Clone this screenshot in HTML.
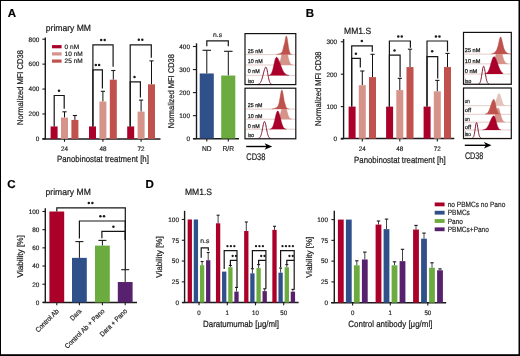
<!DOCTYPE html>
<html><head><meta charset="utf-8"><style>
html,body{margin:0;padding:0;background:#fff;}
svg{display:block;will-change:transform;}
text{font-family:"Liberation Sans", sans-serif;text-rendering:geometricPrecision;}
</style></head><body>
<svg width="520" height="356" viewBox="0 0 520 356">
<rect x="0.00" y="0.00" width="520.00" height="356.00" fill="#000"/>
<rect x="1.00" y="1.00" width="517.50" height="353.20" fill="#fff"/>
<text x="7.70" y="16.80" font-size="11.5" text-anchor="start" font-weight="bold" fill="#000" stroke="#000" stroke-width="0.18">A</text>
<text x="305.80" y="16.80" font-size="11.5" text-anchor="start" font-weight="bold" fill="#000" stroke="#000" stroke-width="0.18">B</text>
<text x="7.20" y="188.00" font-size="11.5" text-anchor="start" font-weight="bold" fill="#000" stroke="#000" stroke-width="0.18">C</text>
<text x="145.60" y="188.20" font-size="11.5" text-anchor="start" font-weight="bold" fill="#000" stroke="#000" stroke-width="0.18">D</text>
<text x="45.80" y="31.30" font-size="9" text-anchor="start" font-weight="normal" fill="#1c1c1c" textLength="45.20" lengthAdjust="spacingAndGlyphs" stroke="#1c1c1c" stroke-width="0.22">primary MM</text>
<line x1="45.30" y1="37.50" x2="45.30" y2="139.20" stroke="#1a1a1a" stroke-width="1.4"/>
<line x1="42.40" y1="138.90" x2="45.30" y2="138.90" stroke="#1a1a1a" stroke-width="1.1"/>
<text x="39.30" y="141.20" font-size="6.4" text-anchor="end" font-weight="normal" fill="#1c1c1c" textLength="3.56" lengthAdjust="spacingAndGlyphs" stroke="#1c1c1c" stroke-width="0.18">0</text>
<line x1="42.40" y1="113.98" x2="45.30" y2="113.98" stroke="#1a1a1a" stroke-width="1.1"/>
<text x="39.30" y="116.28" font-size="6.4" text-anchor="end" font-weight="normal" fill="#1c1c1c" textLength="10.68" lengthAdjust="spacingAndGlyphs" stroke="#1c1c1c" stroke-width="0.18">200</text>
<line x1="42.40" y1="89.06" x2="45.30" y2="89.06" stroke="#1a1a1a" stroke-width="1.1"/>
<text x="39.30" y="91.36" font-size="6.4" text-anchor="end" font-weight="normal" fill="#1c1c1c" textLength="10.68" lengthAdjust="spacingAndGlyphs" stroke="#1c1c1c" stroke-width="0.18">400</text>
<line x1="42.40" y1="64.14" x2="45.30" y2="64.14" stroke="#1a1a1a" stroke-width="1.1"/>
<text x="39.30" y="66.44" font-size="6.4" text-anchor="end" font-weight="normal" fill="#1c1c1c" textLength="10.68" lengthAdjust="spacingAndGlyphs" stroke="#1c1c1c" stroke-width="0.18">600</text>
<line x1="42.40" y1="39.22" x2="45.30" y2="39.22" stroke="#1a1a1a" stroke-width="1.1"/>
<text x="39.30" y="41.52" font-size="6.4" text-anchor="end" font-weight="normal" fill="#1c1c1c" textLength="10.68" lengthAdjust="spacingAndGlyphs" stroke="#1c1c1c" stroke-width="0.18">800</text>
<line x1="42.40" y1="138.90" x2="160.50" y2="138.90" stroke="#1a1a1a" stroke-width="1.5"/>
<line x1="64.50" y1="138.90" x2="64.50" y2="141.80" stroke="#1a1a1a" stroke-width="1.1"/>
<text x="64.50" y="151.20" font-size="6.4" text-anchor="middle" font-weight="normal" fill="#1c1c1c" textLength="7.00" lengthAdjust="spacingAndGlyphs" stroke="#1c1c1c" stroke-width="0.18">24</text>
<line x1="102.90" y1="138.90" x2="102.90" y2="141.80" stroke="#1a1a1a" stroke-width="1.1"/>
<text x="102.90" y="151.20" font-size="6.4" text-anchor="middle" font-weight="normal" fill="#1c1c1c" textLength="7.00" lengthAdjust="spacingAndGlyphs" stroke="#1c1c1c" stroke-width="0.18">48</text>
<line x1="141.10" y1="138.90" x2="141.10" y2="141.80" stroke="#1a1a1a" stroke-width="1.1"/>
<text x="141.10" y="151.20" font-size="6.4" text-anchor="middle" font-weight="normal" fill="#1c1c1c" textLength="7.00" lengthAdjust="spacingAndGlyphs" stroke="#1c1c1c" stroke-width="0.18">72</text>
<text x="57.00" y="162.40" font-size="9.0" text-anchor="start" font-weight="normal" fill="#1c1c1c" textLength="91.90" lengthAdjust="spacingAndGlyphs" stroke="#1c1c1c" stroke-width="0.22">Panobinostat treatment [h]</text>
<text x="22.60" y="87.50" font-size="8.4" text-anchor="middle" font-weight="normal" fill="#1c1c1c" textLength="74.80" lengthAdjust="spacingAndGlyphs" transform="rotate(-90 22.60 87.50)" stroke="#1c1c1c" stroke-width="0.22">Normalized MFI CD38</text>
<rect x="50.60" y="126.44" width="7.00" height="12.46" fill="#ab0029"/>
<line x1="64.50" y1="117.59" x2="64.50" y2="111.80" stroke="#111" stroke-width="1.0"/>
<line x1="62.40" y1="111.80" x2="66.60" y2="111.80" stroke="#1a1a1a" stroke-width="1.1"/>
<rect x="61.00" y="117.59" width="7.00" height="21.31" fill="#d6938a"/>
<line x1="74.90" y1="119.90" x2="74.90" y2="115.50" stroke="#111" stroke-width="1.0"/>
<line x1="72.80" y1="115.50" x2="77.00" y2="115.50" stroke="#1a1a1a" stroke-width="1.1"/>
<rect x="71.40" y="119.90" width="7.00" height="19.00" fill="#c1514d"/>
<rect x="89.00" y="126.44" width="7.00" height="12.46" fill="#ab0029"/>
<line x1="102.90" y1="101.52" x2="102.90" y2="91.30" stroke="#111" stroke-width="1.0"/>
<line x1="100.80" y1="91.30" x2="105.00" y2="91.30" stroke="#1a1a1a" stroke-width="1.1"/>
<rect x="99.40" y="101.52" width="7.00" height="37.38" fill="#d6938a"/>
<line x1="113.30" y1="79.72" x2="113.30" y2="70.50" stroke="#111" stroke-width="1.0"/>
<line x1="111.20" y1="70.50" x2="115.40" y2="70.50" stroke="#1a1a1a" stroke-width="1.1"/>
<rect x="109.80" y="79.72" width="7.00" height="59.19" fill="#c1514d"/>
<rect x="127.20" y="126.44" width="7.00" height="12.46" fill="#ab0029"/>
<line x1="141.10" y1="111.61" x2="141.10" y2="100.10" stroke="#111" stroke-width="1.0"/>
<line x1="139.00" y1="100.10" x2="143.20" y2="100.10" stroke="#1a1a1a" stroke-width="1.1"/>
<rect x="137.60" y="111.61" width="7.00" height="27.29" fill="#d6938a"/>
<line x1="151.50" y1="84.33" x2="151.50" y2="60.90" stroke="#111" stroke-width="1.0"/>
<line x1="149.40" y1="60.90" x2="153.60" y2="60.90" stroke="#1a1a1a" stroke-width="1.1"/>
<rect x="148.00" y="84.33" width="7.00" height="54.57" fill="#c1514d"/>
<path d="M54.20,126.44 L54.20,95.50 L64.20,95.50 L64.20,108.80" fill="none" stroke="#161616" stroke-width="1.2"/>
<circle cx="59.00" cy="90.80" r="1.25" fill="#1a1a1a"/>
<path d="M92.90,126.44 L92.90,44.80 L113.10,44.80 L113.10,66.80" fill="none" stroke="#161616" stroke-width="1.2"/>
<circle cx="101.20" cy="39.90" r="1.25" fill="#1a1a1a"/>
<circle cx="104.70" cy="39.90" r="1.25" fill="#1a1a1a"/>
<path d="M92.90,126.44 L92.90,69.80 L102.40,69.80 L102.40,88.50" fill="none" stroke="#161616" stroke-width="1.2"/>
<circle cx="95.80" cy="64.90" r="1.25" fill="#1a1a1a"/>
<circle cx="99.10" cy="64.90" r="1.25" fill="#1a1a1a"/>
<path d="M130.20,126.44 L130.20,44.80 L151.30,44.80 L151.30,57.80" fill="none" stroke="#161616" stroke-width="1.2"/>
<circle cx="138.80" cy="39.80" r="1.25" fill="#1a1a1a"/>
<circle cx="142.30" cy="39.80" r="1.25" fill="#1a1a1a"/>
<path d="M130.20,126.44 L130.20,81.80 L140.40,81.80 L140.40,97.50" fill="none" stroke="#161616" stroke-width="1.2"/>
<circle cx="134.50" cy="76.90" r="1.25" fill="#1a1a1a"/>
<rect x="52.00" y="45.10" width="9.60" height="3.20" fill="#ab0029"/>
<text x="64.60" y="49.05" font-size="6.5" text-anchor="start" font-weight="normal" fill="#1c1c1c" stroke="#1c1c1c" stroke-width="0.18">0 nM</text>
<rect x="52.00" y="52.30" width="9.60" height="3.20" fill="#d6938a"/>
<text x="64.60" y="56.25" font-size="6.5" text-anchor="start" font-weight="normal" fill="#1c1c1c" stroke="#1c1c1c" stroke-width="0.18">10 nM</text>
<rect x="52.00" y="59.50" width="9.60" height="3.20" fill="#c1514d"/>
<text x="64.60" y="63.45" font-size="6.5" text-anchor="start" font-weight="normal" fill="#1c1c1c" stroke="#1c1c1c" stroke-width="0.18">25 nM</text>
<line x1="196.50" y1="43.30" x2="196.50" y2="139.00" stroke="#1a1a1a" stroke-width="1.4"/>
<line x1="192.90" y1="138.70" x2="196.50" y2="138.70" stroke="#1a1a1a" stroke-width="1.1"/>
<text x="190.00" y="141.00" font-size="6.4" text-anchor="end" font-weight="normal" fill="#1c1c1c" textLength="3.56" lengthAdjust="spacingAndGlyphs" stroke="#1c1c1c" stroke-width="0.18">0</text>
<line x1="192.90" y1="115.65" x2="196.50" y2="115.65" stroke="#1a1a1a" stroke-width="1.1"/>
<text x="190.00" y="117.95" font-size="6.4" text-anchor="end" font-weight="normal" fill="#1c1c1c" textLength="10.68" lengthAdjust="spacingAndGlyphs" stroke="#1c1c1c" stroke-width="0.18">100</text>
<line x1="192.90" y1="92.60" x2="196.50" y2="92.60" stroke="#1a1a1a" stroke-width="1.1"/>
<text x="190.00" y="94.90" font-size="6.4" text-anchor="end" font-weight="normal" fill="#1c1c1c" textLength="10.68" lengthAdjust="spacingAndGlyphs" stroke="#1c1c1c" stroke-width="0.18">200</text>
<line x1="192.90" y1="69.55" x2="196.50" y2="69.55" stroke="#1a1a1a" stroke-width="1.1"/>
<text x="190.00" y="71.85" font-size="6.4" text-anchor="end" font-weight="normal" fill="#1c1c1c" textLength="10.68" lengthAdjust="spacingAndGlyphs" stroke="#1c1c1c" stroke-width="0.18">300</text>
<line x1="192.90" y1="46.50" x2="196.50" y2="46.50" stroke="#1a1a1a" stroke-width="1.1"/>
<text x="190.00" y="48.80" font-size="6.4" text-anchor="end" font-weight="normal" fill="#1c1c1c" textLength="10.68" lengthAdjust="spacingAndGlyphs" stroke="#1c1c1c" stroke-width="0.18">400</text>
<line x1="193.20" y1="138.70" x2="239.00" y2="138.70" stroke="#1a1a1a" stroke-width="1.4"/>
<line x1="206.80" y1="138.50" x2="206.80" y2="141.40" stroke="#1a1a1a" stroke-width="1.1"/>
<text x="206.80" y="150.80" font-size="7.0" text-anchor="middle" font-weight="normal" fill="#1c1c1c" textLength="9.60" lengthAdjust="spacingAndGlyphs" stroke="#1c1c1c" stroke-width="0.18">ND</text>
<line x1="228.30" y1="138.50" x2="228.30" y2="141.40" stroke="#1a1a1a" stroke-width="1.1"/>
<text x="228.30" y="150.80" font-size="7.0" text-anchor="middle" font-weight="normal" fill="#1c1c1c" textLength="11.60" lengthAdjust="spacingAndGlyphs" stroke="#1c1c1c" stroke-width="0.18">R/R</text>
<text x="174.00" y="91.15" font-size="8.4" text-anchor="middle" font-weight="normal" fill="#1c1c1c" textLength="74.10" lengthAdjust="spacingAndGlyphs" transform="rotate(-90 174.00 91.15)" stroke="#1c1c1c" stroke-width="0.22">Normalized MFI CD38</text>
<line x1="206.80" y1="73.47" x2="206.80" y2="50.30" stroke="#111" stroke-width="1.0"/>
<line x1="202.55" y1="50.30" x2="211.05" y2="50.30" stroke="#1a1a1a" stroke-width="1.1"/>
<rect x="199.70" y="73.47" width="14.10" height="65.03" fill="#30508a"/>
<line x1="228.30" y1="75.54" x2="228.30" y2="51.30" stroke="#111" stroke-width="1.0"/>
<line x1="224.05" y1="51.30" x2="232.55" y2="51.30" stroke="#1a1a1a" stroke-width="1.1"/>
<rect x="221.20" y="75.54" width="14.10" height="62.96" fill="#6bab3f"/>
<path d="M206.80,46.30 L206.80,40.80 L228.30,40.80 L228.30,46.30" fill="none" stroke="#161616" stroke-width="1.2"/>
<text x="217.50" y="36.60" font-size="6.6" text-anchor="middle" font-weight="normal" fill="#1c1c1c" textLength="9.00" lengthAdjust="spacingAndGlyphs" stroke="#1c1c1c" stroke-width="0.18">n.s</text>
<text x="344.10" y="33.80" font-size="9" text-anchor="start" font-weight="normal" fill="#1c1c1c" textLength="27.10" lengthAdjust="spacingAndGlyphs" stroke="#1c1c1c" stroke-width="0.22">MM1.S</text>
<line x1="343.60" y1="39.00" x2="343.60" y2="139.00" stroke="#1a1a1a" stroke-width="1.4"/>
<line x1="340.80" y1="139.00" x2="343.60" y2="139.00" stroke="#1a1a1a" stroke-width="1.1"/>
<text x="337.10" y="141.30" font-size="6.4" text-anchor="end" font-weight="normal" fill="#1c1c1c" textLength="3.56" lengthAdjust="spacingAndGlyphs" stroke="#1c1c1c" stroke-width="0.18">0</text>
<line x1="340.80" y1="106.60" x2="343.60" y2="106.60" stroke="#1a1a1a" stroke-width="1.1"/>
<text x="337.10" y="108.90" font-size="6.4" text-anchor="end" font-weight="normal" fill="#1c1c1c" textLength="10.68" lengthAdjust="spacingAndGlyphs" stroke="#1c1c1c" stroke-width="0.18">100</text>
<line x1="340.80" y1="74.20" x2="343.60" y2="74.20" stroke="#1a1a1a" stroke-width="1.1"/>
<text x="337.10" y="76.50" font-size="6.4" text-anchor="end" font-weight="normal" fill="#1c1c1c" textLength="10.68" lengthAdjust="spacingAndGlyphs" stroke="#1c1c1c" stroke-width="0.18">200</text>
<line x1="340.80" y1="41.80" x2="343.60" y2="41.80" stroke="#1a1a1a" stroke-width="1.1"/>
<text x="337.10" y="44.10" font-size="6.4" text-anchor="end" font-weight="normal" fill="#1c1c1c" textLength="10.68" lengthAdjust="spacingAndGlyphs" stroke="#1c1c1c" stroke-width="0.18">300</text>
<line x1="340.80" y1="138.60" x2="454.30" y2="138.60" stroke="#1a1a1a" stroke-width="1.5"/>
<line x1="362.30" y1="138.60" x2="362.30" y2="141.50" stroke="#1a1a1a" stroke-width="1.1"/>
<text x="362.30" y="151.10" font-size="6.4" text-anchor="middle" font-weight="normal" fill="#1c1c1c" textLength="7.00" lengthAdjust="spacingAndGlyphs" stroke="#1c1c1c" stroke-width="0.18">24</text>
<line x1="399.80" y1="138.60" x2="399.80" y2="141.50" stroke="#1a1a1a" stroke-width="1.1"/>
<text x="399.80" y="151.10" font-size="6.4" text-anchor="middle" font-weight="normal" fill="#1c1c1c" textLength="7.00" lengthAdjust="spacingAndGlyphs" stroke="#1c1c1c" stroke-width="0.18">48</text>
<line x1="437.30" y1="138.60" x2="437.30" y2="141.50" stroke="#1a1a1a" stroke-width="1.1"/>
<text x="437.30" y="151.10" font-size="6.4" text-anchor="middle" font-weight="normal" fill="#1c1c1c" textLength="7.00" lengthAdjust="spacingAndGlyphs" stroke="#1c1c1c" stroke-width="0.18">72</text>
<text x="354.10" y="162.50" font-size="9.0" text-anchor="start" font-weight="normal" fill="#1c1c1c" textLength="91.60" lengthAdjust="spacingAndGlyphs" stroke="#1c1c1c" stroke-width="0.22">Panobinostat treatment [h]</text>
<text x="321.50" y="88.70" font-size="8.4" text-anchor="middle" font-weight="normal" fill="#1c1c1c" textLength="74.40" lengthAdjust="spacingAndGlyphs" transform="rotate(-90 321.50 88.70)" stroke="#1c1c1c" stroke-width="0.22">Normalized MFI CD38</text>
<rect x="348.60" y="106.60" width="7.00" height="32.00" fill="#ab0029"/>
<line x1="362.30" y1="85.22" x2="362.30" y2="71.00" stroke="#111" stroke-width="1.0"/>
<line x1="360.20" y1="71.00" x2="364.40" y2="71.00" stroke="#1a1a1a" stroke-width="1.1"/>
<rect x="358.80" y="85.22" width="7.00" height="53.38" fill="#d6938a"/>
<line x1="372.50" y1="77.12" x2="372.50" y2="54.30" stroke="#111" stroke-width="1.0"/>
<line x1="370.40" y1="54.30" x2="374.60" y2="54.30" stroke="#1a1a1a" stroke-width="1.1"/>
<rect x="369.00" y="77.12" width="7.00" height="61.48" fill="#c1514d"/>
<rect x="386.10" y="106.60" width="7.00" height="32.00" fill="#ab0029"/>
<line x1="399.80" y1="90.08" x2="399.80" y2="78.40" stroke="#111" stroke-width="1.0"/>
<line x1="397.70" y1="78.40" x2="401.90" y2="78.40" stroke="#1a1a1a" stroke-width="1.1"/>
<rect x="396.30" y="90.08" width="7.00" height="48.52" fill="#d6938a"/>
<line x1="410.00" y1="67.07" x2="410.00" y2="49.20" stroke="#111" stroke-width="1.0"/>
<line x1="407.90" y1="49.20" x2="412.10" y2="49.20" stroke="#1a1a1a" stroke-width="1.1"/>
<rect x="406.50" y="67.07" width="7.00" height="71.53" fill="#c1514d"/>
<rect x="423.60" y="106.60" width="7.00" height="32.00" fill="#ab0029"/>
<line x1="437.30" y1="91.37" x2="437.30" y2="80.40" stroke="#111" stroke-width="1.0"/>
<line x1="435.20" y1="80.40" x2="439.40" y2="80.40" stroke="#1a1a1a" stroke-width="1.1"/>
<rect x="433.80" y="91.37" width="7.00" height="47.23" fill="#d6938a"/>
<line x1="447.50" y1="67.07" x2="447.50" y2="53.40" stroke="#111" stroke-width="1.0"/>
<line x1="445.40" y1="53.40" x2="449.60" y2="53.40" stroke="#1a1a1a" stroke-width="1.1"/>
<rect x="444.00" y="67.07" width="7.00" height="71.53" fill="#c1514d"/>
<path d="M351.70,106.60 L351.70,45.90 L372.30,45.90 L372.30,51.70" fill="none" stroke="#161616" stroke-width="1.2"/>
<circle cx="361.80" cy="40.90" r="1.25" fill="#1a1a1a"/>
<path d="M351.70,106.60 L351.70,58.30 L360.30,58.30 L360.30,67.60" fill="none" stroke="#161616" stroke-width="1.2"/>
<circle cx="355.90" cy="53.70" r="1.25" fill="#1a1a1a"/>
<path d="M389.40,106.60 L389.40,41.00 L410.40,41.00 L410.40,47.80" fill="none" stroke="#161616" stroke-width="1.2"/>
<circle cx="398.25" cy="36.60" r="1.25" fill="#1a1a1a"/>
<circle cx="401.75" cy="36.60" r="1.25" fill="#1a1a1a"/>
<path d="M389.40,106.60 L389.40,55.20 L400.10,55.20 L400.10,77.20" fill="none" stroke="#161616" stroke-width="1.2"/>
<circle cx="394.50" cy="50.50" r="1.25" fill="#1a1a1a"/>
<path d="M427.00,106.60 L427.00,41.00 L447.50,41.00 L447.50,51.60" fill="none" stroke="#161616" stroke-width="1.2"/>
<circle cx="435.95" cy="36.60" r="1.25" fill="#1a1a1a"/>
<circle cx="439.45" cy="36.60" r="1.25" fill="#1a1a1a"/>
<path d="M427.00,106.60 L427.00,56.60 L437.70,56.60 L437.70,78.60" fill="none" stroke="#161616" stroke-width="1.2"/>
<circle cx="432.20" cy="51.30" r="1.25" fill="#1a1a1a"/>
<text x="247.80" y="52.80" font-size="5.6" text-anchor="start" font-weight="normal" fill="#1e1e1e" textLength="14.90" lengthAdjust="spacingAndGlyphs" stroke="#1e1e1e" stroke-width="0.25">25 nM</text>
<text x="247.80" y="63.20" font-size="5.6" text-anchor="start" font-weight="normal" fill="#1e1e1e" textLength="14.90" lengthAdjust="spacingAndGlyphs" stroke="#1e1e1e" stroke-width="0.25">10 nM</text>
<text x="247.80" y="73.30" font-size="5.6" text-anchor="start" font-weight="normal" fill="#1e1e1e" textLength="12.00" lengthAdjust="spacingAndGlyphs" stroke="#1e1e1e" stroke-width="0.25">0 nM</text>
<text x="247.80" y="83.20" font-size="5.6" text-anchor="start" font-weight="normal" fill="#1e1e1e" textLength="6.30" lengthAdjust="spacingAndGlyphs" stroke="#1e1e1e" stroke-width="0.25">iso</text>
<line x1="246.00" y1="54.60" x2="295.80" y2="54.60" stroke="#dcc0bd" stroke-width="0.8"/>
<line x1="246.00" y1="65.00" x2="295.80" y2="65.00" stroke="#dcc0bd" stroke-width="0.8"/>
<line x1="246.00" y1="75.40" x2="295.80" y2="75.40" stroke="#dcc0bd" stroke-width="0.8"/>
<line x1="246.00" y1="84.50" x2="295.80" y2="84.50" stroke="#dcc0bd" stroke-width="0.8"/>
<path d="M277.00,64.86 L277.25,64.81 L277.50,64.74 L277.75,64.65 L278.00,64.53 L278.25,64.37 L278.50,64.18 L278.75,63.93 L279.00,63.63 L279.25,63.27 L279.50,62.82 L279.75,62.30 L280.00,61.69 L280.25,60.98 L280.50,60.17 L280.75,59.26 L281.00,58.25 L281.25,57.15 L281.50,55.97 L281.75,54.72 L282.00,53.43 L282.25,52.12 L282.50,50.82 L282.75,49.55 L283.00,48.34 L283.25,47.24 L283.50,46.27 L283.75,45.46 L284.00,44.84 L284.25,44.42 L284.50,44.22 L284.75,44.24 L285.00,44.46 L285.25,44.89 L285.50,45.51 L285.75,46.29 L286.00,47.22 L286.25,48.27 L286.50,49.42 L286.75,50.63 L287.00,51.88 L287.25,53.14 L287.50,54.39 L287.75,55.60 L288.00,56.75 L288.25,57.84 L288.50,58.84 L288.75,59.76 L289.00,60.58 L289.25,61.31 L289.50,61.95 L289.75,62.51 L290.00,62.98 L290.25,63.38 L290.50,63.72 L290.75,63.99 L291.00,64.21 L291.25,64.40 L291.50,64.54 L291.75,64.65 L292.00,64.74 L292.25,64.81 L292.50,64.86 L292.50,65.00 L277.00,65.00 Z" fill="#d6938a"/>
<path d="M277.00,64.86 L277.25,64.81 L277.50,64.74 L277.75,64.65 L278.00,64.53 L278.25,64.37 L278.50,64.18 L278.75,63.93 L279.00,63.63 L279.25,63.27 L279.50,62.82 L279.75,62.30 L280.00,61.69 L280.25,60.98 L280.50,60.17 L280.75,59.26 L281.00,58.25 L281.25,57.15 L281.50,55.97 L281.75,54.72 L282.00,53.43 L282.25,52.12 L282.50,50.82 L282.75,49.55 L283.00,48.34 L283.25,47.24 L283.50,46.27 L283.75,45.46 L284.00,44.84 L284.25,44.42 L284.50,44.22 L284.75,44.24 L285.00,44.46 L285.25,44.89 L285.50,45.51 L285.75,46.29 L286.00,47.22 L286.25,48.27 L286.50,49.42 L286.75,50.63 L287.00,51.88 L287.25,53.14 L287.50,54.39 L287.75,55.60 L288.00,56.75 L288.25,57.84 L288.50,58.84 L288.75,59.76 L289.00,60.58 L289.25,61.31 L289.50,61.95 L289.75,62.51 L290.00,62.98 L290.25,63.38 L290.50,63.72 L290.75,63.99 L291.00,64.21 L291.25,64.40 L291.50,64.54 L291.75,64.65 L292.00,64.74 L292.25,64.81 L292.50,64.86" fill="none" stroke="#c98579" stroke-width="0.5"/>
<path d="M276.50,54.36 L276.75,54.33 L277.00,54.30 L277.25,54.27 L277.50,54.23 L277.75,54.18 L278.00,54.13 L278.25,54.08 L278.50,54.02 L278.75,53.95 L279.00,53.87 L279.25,53.79 L279.50,53.70 L279.75,53.61 L280.00,53.50 L280.25,53.39 L280.50,53.27 L280.75,53.15 L281.00,53.01 L281.25,52.86 L281.50,52.70 L281.75,52.51 L282.00,52.30 L282.25,52.03 L282.50,51.71 L282.75,51.31 L283.00,50.80 L283.25,50.16 L283.50,49.37 L283.75,48.40 L284.00,47.26 L284.25,45.94 L284.50,44.47 L284.75,42.90 L285.00,41.30 L285.25,39.75 L285.50,38.35 L285.75,37.21 L286.00,36.41 L286.25,36.03 L286.50,36.10 L286.75,36.62 L287.00,37.56 L287.25,38.85 L287.50,40.39 L287.75,42.10 L288.00,43.86 L288.25,45.60 L288.50,47.22 L288.75,48.68 L289.00,49.94 L289.25,51.01 L289.50,51.87 L289.75,52.55 L290.00,53.08 L290.25,53.47 L290.50,53.76 L290.75,53.98 L291.00,54.13 L291.25,54.24 L291.50,54.31 L291.75,54.37 L291.75,54.50 L276.50,54.50 Z" fill="#c1514d"/>
<path d="M276.50,54.36 L276.75,54.33 L277.00,54.30 L277.25,54.27 L277.50,54.23 L277.75,54.18 L278.00,54.13 L278.25,54.08 L278.50,54.02 L278.75,53.95 L279.00,53.87 L279.25,53.79 L279.50,53.70 L279.75,53.61 L280.00,53.50 L280.25,53.39 L280.50,53.27 L280.75,53.15 L281.00,53.01 L281.25,52.86 L281.50,52.70 L281.75,52.51 L282.00,52.30 L282.25,52.03 L282.50,51.71 L282.75,51.31 L283.00,50.80 L283.25,50.16 L283.50,49.37 L283.75,48.40 L284.00,47.26 L284.25,45.94 L284.50,44.47 L284.75,42.90 L285.00,41.30 L285.25,39.75 L285.50,38.35 L285.75,37.21 L286.00,36.41 L286.25,36.03 L286.50,36.10 L286.75,36.62 L287.00,37.56 L287.25,38.85 L287.50,40.39 L287.75,42.10 L288.00,43.86 L288.25,45.60 L288.50,47.22 L288.75,48.68 L289.00,49.94 L289.25,51.01 L289.50,51.87 L289.75,52.55 L290.00,53.08 L290.25,53.47 L290.50,53.76 L290.75,53.98 L291.00,54.13 L291.25,54.24 L291.50,54.31 L291.75,54.37" fill="none" stroke="#b04840" stroke-width="0.5"/>
<path d="M268.75,75.29 L269.00,75.24 L269.25,75.19 L269.50,75.11 L269.75,75.01 L270.00,74.88 L270.25,74.72 L270.50,74.52 L270.75,74.27 L271.00,73.96 L271.25,73.59 L271.50,73.15 L271.75,72.63 L272.00,72.03 L272.25,71.34 L272.50,70.57 L272.75,69.71 L273.00,68.76 L273.25,67.75 L273.50,66.68 L273.75,65.56 L274.00,64.42 L274.25,63.28 L274.50,62.17 L274.75,61.11 L275.00,60.13 L275.25,59.26 L275.50,58.53 L275.75,57.95 L276.00,57.55 L276.25,57.34 L276.50,57.31 L276.75,57.37 L277.00,57.50 L277.25,57.70 L277.50,57.97 L277.75,58.30 L278.00,58.69 L278.25,59.14 L278.50,59.63 L278.75,60.17 L279.00,60.75 L279.25,61.36 L279.50,62.00 L279.75,62.65 L280.00,63.33 L280.25,64.01 L280.50,64.70 L280.75,65.38 L281.00,66.06 L281.25,66.72 L281.50,67.37 L281.75,68.00 L282.00,68.61 L282.25,69.19 L282.50,69.74 L282.75,70.27 L283.00,70.76 L283.25,71.22 L283.50,71.65 L283.75,72.05 L284.00,72.42 L284.25,72.76 L284.50,73.07 L284.75,73.35 L285.00,73.61 L285.25,73.83 L285.50,74.04 L285.75,74.22 L286.00,74.38 L286.25,74.53 L286.50,74.65 L286.75,74.76 L287.00,74.86 L287.25,74.94 L287.50,75.01 L287.75,75.08 L288.00,75.13 L288.25,75.18 L288.50,75.21 L288.75,75.25 L289.00,75.27 L289.00,75.40 L268.75,75.40 Z" fill="#ab0029"/>
<path d="M268.75,75.29 L269.00,75.24 L269.25,75.19 L269.50,75.11 L269.75,75.01 L270.00,74.88 L270.25,74.72 L270.50,74.52 L270.75,74.27 L271.00,73.96 L271.25,73.59 L271.50,73.15 L271.75,72.63 L272.00,72.03 L272.25,71.34 L272.50,70.57 L272.75,69.71 L273.00,68.76 L273.25,67.75 L273.50,66.68 L273.75,65.56 L274.00,64.42 L274.25,63.28 L274.50,62.17 L274.75,61.11 L275.00,60.13 L275.25,59.26 L275.50,58.53 L275.75,57.95 L276.00,57.55 L276.25,57.34 L276.50,57.31 L276.75,57.37 L277.00,57.50 L277.25,57.70 L277.50,57.97 L277.75,58.30 L278.00,58.69 L278.25,59.14 L278.50,59.63 L278.75,60.17 L279.00,60.75 L279.25,61.36 L279.50,62.00 L279.75,62.65 L280.00,63.33 L280.25,64.01 L280.50,64.70 L280.75,65.38 L281.00,66.06 L281.25,66.72 L281.50,67.37 L281.75,68.00 L282.00,68.61 L282.25,69.19 L282.50,69.74 L282.75,70.27 L283.00,70.76 L283.25,71.22 L283.50,71.65 L283.75,72.05 L284.00,72.42 L284.25,72.76 L284.50,73.07 L284.75,73.35 L285.00,73.61 L285.25,73.83 L285.50,74.04 L285.75,74.22 L286.00,74.38 L286.25,74.53 L286.50,74.65 L286.75,74.76 L287.00,74.86 L287.25,74.94 L287.50,75.01 L287.75,75.08 L288.00,75.13 L288.25,75.18 L288.50,75.21 L288.75,75.25 L289.00,75.27" fill="none" stroke="#900022" stroke-width="0.5"/>
<path d="M257.75,84.37 L258.00,84.33 L258.25,84.27 L258.50,84.20 L258.75,84.10 L259.00,83.99 L259.25,83.84 L259.50,83.66 L259.75,83.44 L260.00,83.17 L260.25,82.86 L260.50,82.49 L260.75,82.05 L261.00,81.55 L261.25,80.98 L261.50,80.34 L261.75,79.63 L262.00,78.85 L262.25,78.00 L262.50,77.10 L262.75,76.15 L263.00,75.16 L263.25,74.15 L263.50,73.14 L263.75,72.14 L264.00,71.18 L264.25,70.27 L264.50,69.45 L264.75,68.72 L265.00,68.11 L265.25,67.64 L265.50,67.30 L265.75,67.13 L266.00,67.12 L266.25,67.39 L266.50,67.95 L266.75,68.76 L267.00,69.78 L267.25,70.98 L267.50,72.29 L267.75,73.67 L268.00,75.05 L268.25,76.40 L268.50,77.68 L268.75,78.85 L269.00,79.90 L269.25,80.82 L269.50,81.61 L269.75,82.27 L270.00,82.80 L270.25,83.23 L270.50,83.57 L270.75,83.83 L271.00,84.03 L271.25,84.17 L271.50,84.27 L271.75,84.35 L272.00,84.40" fill="none" stroke="#7d1530" stroke-width="1.0"/>
<rect x="245.00" y="33.60" width="50.80" height="51.00" fill="none" stroke="#111" stroke-width="1.2"/>
<text x="247.80" y="107.30" font-size="5.6" text-anchor="start" font-weight="normal" fill="#1e1e1e" textLength="14.70" lengthAdjust="spacingAndGlyphs" stroke="#1e1e1e" stroke-width="0.25">25 nM</text>
<text x="247.80" y="117.50" font-size="5.6" text-anchor="start" font-weight="normal" fill="#1e1e1e" textLength="14.70" lengthAdjust="spacingAndGlyphs" stroke="#1e1e1e" stroke-width="0.25">10 nM</text>
<text x="247.80" y="128.00" font-size="5.6" text-anchor="start" font-weight="normal" fill="#1e1e1e" textLength="12.00" lengthAdjust="spacingAndGlyphs" stroke="#1e1e1e" stroke-width="0.25">0 nM</text>
<text x="247.80" y="137.20" font-size="5.6" text-anchor="start" font-weight="normal" fill="#1e1e1e" textLength="6.30" lengthAdjust="spacingAndGlyphs" stroke="#1e1e1e" stroke-width="0.25">iso</text>
<line x1="246.00" y1="109.10" x2="295.80" y2="109.10" stroke="#dcc0bd" stroke-width="0.8"/>
<line x1="246.00" y1="119.20" x2="295.80" y2="119.20" stroke="#dcc0bd" stroke-width="0.8"/>
<line x1="246.00" y1="129.20" x2="295.80" y2="129.20" stroke="#dcc0bd" stroke-width="0.8"/>
<line x1="246.00" y1="138.40" x2="295.80" y2="138.40" stroke="#dcc0bd" stroke-width="0.8"/>
<path d="M276.75,119.08 L277.00,119.03 L277.25,118.97 L277.50,118.89 L277.75,118.78 L278.00,118.63 L278.25,118.45 L278.50,118.23 L278.75,117.94 L279.00,117.60 L279.25,117.18 L279.50,116.69 L279.75,116.12 L280.00,115.45 L280.25,114.70 L280.50,113.86 L280.75,112.94 L281.00,111.94 L281.25,110.88 L281.50,109.78 L281.75,108.66 L282.00,107.55 L282.25,106.47 L282.50,105.46 L282.75,104.53 L283.00,103.73 L283.25,103.08 L283.50,102.60 L283.75,102.30 L284.00,102.20 L284.25,102.29 L284.50,102.56 L284.75,103.01 L285.00,103.61 L285.25,104.36 L285.50,105.22 L285.75,106.17 L286.00,107.19 L286.25,108.25 L286.50,109.32 L286.75,110.38 L287.00,111.42 L287.25,112.40 L287.50,113.33 L287.75,114.18 L288.00,114.96 L288.25,115.66 L288.50,116.27 L288.75,116.80 L289.00,117.26 L289.25,117.65 L289.50,117.97 L289.75,118.24 L290.00,118.45 L290.25,118.63 L290.50,118.77 L290.75,118.87 L291.00,118.96 L291.25,119.02 L291.50,119.07 L291.50,119.20 L276.75,119.20 Z" fill="#d6938a"/>
<path d="M276.75,119.08 L277.00,119.03 L277.25,118.97 L277.50,118.89 L277.75,118.78 L278.00,118.63 L278.25,118.45 L278.50,118.23 L278.75,117.94 L279.00,117.60 L279.25,117.18 L279.50,116.69 L279.75,116.12 L280.00,115.45 L280.25,114.70 L280.50,113.86 L280.75,112.94 L281.00,111.94 L281.25,110.88 L281.50,109.78 L281.75,108.66 L282.00,107.55 L282.25,106.47 L282.50,105.46 L282.75,104.53 L283.00,103.73 L283.25,103.08 L283.50,102.60 L283.75,102.30 L284.00,102.20 L284.25,102.29 L284.50,102.56 L284.75,103.01 L285.00,103.61 L285.25,104.36 L285.50,105.22 L285.75,106.17 L286.00,107.19 L286.25,108.25 L286.50,109.32 L286.75,110.38 L287.00,111.42 L287.25,112.40 L287.50,113.33 L287.75,114.18 L288.00,114.96 L288.25,115.66 L288.50,116.27 L288.75,116.80 L289.00,117.26 L289.25,117.65 L289.50,117.97 L289.75,118.24 L290.00,118.45 L290.25,118.63 L290.50,118.77 L290.75,118.87 L291.00,118.96 L291.25,119.02 L291.50,119.07" fill="none" stroke="#c98579" stroke-width="0.5"/>
<path d="M271.75,108.97 L272.00,108.94 L272.25,108.91 L272.50,108.88 L272.75,108.85 L273.00,108.81 L273.25,108.76 L273.50,108.71 L273.75,108.65 L274.00,108.59 L274.25,108.52 L274.50,108.44 L274.75,108.36 L275.00,108.26 L275.25,108.17 L275.50,108.06 L275.75,107.94 L276.00,107.82 L276.25,107.68 L276.50,107.53 L276.75,107.36 L277.00,107.17 L277.25,106.95 L277.50,106.68 L277.75,106.35 L278.00,105.95 L278.25,105.45 L278.50,104.84 L278.75,104.10 L279.00,103.20 L279.25,102.15 L279.50,100.93 L279.75,99.58 L280.00,98.11 L280.25,96.58 L280.50,95.05 L280.75,93.60 L281.00,92.30 L281.25,91.24 L281.50,90.48 L281.75,90.08 L282.00,90.08 L282.25,90.48 L282.50,91.25 L282.75,92.34 L283.00,93.69 L283.25,95.21 L283.50,96.82 L283.75,98.44 L284.00,100.01 L284.25,101.46 L284.50,102.78 L284.75,103.93 L285.00,104.90 L285.25,105.72 L285.50,106.39 L285.75,106.92 L286.00,107.35 L286.25,107.69 L286.50,107.95 L286.75,108.16 L287.00,108.33 L287.25,108.47 L287.50,108.58 L287.75,108.67 L288.00,108.74 L288.25,108.81 L288.50,108.86 L288.75,108.90 L289.00,108.94 L289.25,108.97 L289.25,109.10 L271.75,109.10 Z" fill="#c1514d"/>
<path d="M271.75,108.97 L272.00,108.94 L272.25,108.91 L272.50,108.88 L272.75,108.85 L273.00,108.81 L273.25,108.76 L273.50,108.71 L273.75,108.65 L274.00,108.59 L274.25,108.52 L274.50,108.44 L274.75,108.36 L275.00,108.26 L275.25,108.17 L275.50,108.06 L275.75,107.94 L276.00,107.82 L276.25,107.68 L276.50,107.53 L276.75,107.36 L277.00,107.17 L277.25,106.95 L277.50,106.68 L277.75,106.35 L278.00,105.95 L278.25,105.45 L278.50,104.84 L278.75,104.10 L279.00,103.20 L279.25,102.15 L279.50,100.93 L279.75,99.58 L280.00,98.11 L280.25,96.58 L280.50,95.05 L280.75,93.60 L281.00,92.30 L281.25,91.24 L281.50,90.48 L281.75,90.08 L282.00,90.08 L282.25,90.48 L282.50,91.25 L282.75,92.34 L283.00,93.69 L283.25,95.21 L283.50,96.82 L283.75,98.44 L284.00,100.01 L284.25,101.46 L284.50,102.78 L284.75,103.93 L285.00,104.90 L285.25,105.72 L285.50,106.39 L285.75,106.92 L286.00,107.35 L286.25,107.69 L286.50,107.95 L286.75,108.16 L287.00,108.33 L287.25,108.47 L287.50,108.58 L287.75,108.67 L288.00,108.74 L288.25,108.81 L288.50,108.86 L288.75,108.90 L289.00,108.94 L289.25,108.97" fill="none" stroke="#b04840" stroke-width="0.5"/>
<path d="M269.75,129.08 L270.00,129.04 L270.25,128.99 L270.50,128.91 L270.75,128.82 L271.00,128.70 L271.25,128.55 L271.50,128.36 L271.75,128.13 L272.00,127.85 L272.25,127.51 L272.50,127.11 L272.75,126.64 L273.00,126.09 L273.25,125.47 L273.50,124.76 L273.75,123.98 L274.00,123.11 L274.25,122.18 L274.50,121.18 L274.75,120.13 L275.00,119.04 L275.25,117.94 L275.50,116.84 L275.75,115.77 L276.00,114.76 L276.25,113.82 L276.50,112.98 L276.75,112.27 L277.00,111.70 L277.25,111.29 L277.50,111.06 L277.75,111.00 L278.00,111.11 L278.25,111.37 L278.50,111.78 L278.75,112.33 L279.00,112.99 L279.25,113.76 L279.50,114.63 L279.75,115.56 L280.00,116.54 L280.25,117.55 L280.50,118.57 L280.75,119.58 L281.00,120.58 L281.25,121.53 L281.50,122.44 L281.75,123.29 L282.00,124.08 L282.25,124.80 L282.50,125.45 L282.75,126.03 L283.00,126.55 L283.25,127.00 L283.50,127.39 L283.75,127.72 L284.00,128.00 L284.25,128.24 L284.50,128.44 L284.75,128.60 L285.00,128.73 L285.25,128.84 L285.50,128.92 L285.75,128.99 L286.00,129.04 L286.25,129.08 L286.25,129.20 L269.75,129.20 Z" fill="#ab0029"/>
<path d="M269.75,129.08 L270.00,129.04 L270.25,128.99 L270.50,128.91 L270.75,128.82 L271.00,128.70 L271.25,128.55 L271.50,128.36 L271.75,128.13 L272.00,127.85 L272.25,127.51 L272.50,127.11 L272.75,126.64 L273.00,126.09 L273.25,125.47 L273.50,124.76 L273.75,123.98 L274.00,123.11 L274.25,122.18 L274.50,121.18 L274.75,120.13 L275.00,119.04 L275.25,117.94 L275.50,116.84 L275.75,115.77 L276.00,114.76 L276.25,113.82 L276.50,112.98 L276.75,112.27 L277.00,111.70 L277.25,111.29 L277.50,111.06 L277.75,111.00 L278.00,111.11 L278.25,111.37 L278.50,111.78 L278.75,112.33 L279.00,112.99 L279.25,113.76 L279.50,114.63 L279.75,115.56 L280.00,116.54 L280.25,117.55 L280.50,118.57 L280.75,119.58 L281.00,120.58 L281.25,121.53 L281.50,122.44 L281.75,123.29 L282.00,124.08 L282.25,124.80 L282.50,125.45 L282.75,126.03 L283.00,126.55 L283.25,127.00 L283.50,127.39 L283.75,127.72 L284.00,128.00 L284.25,128.24 L284.50,128.44 L284.75,128.60 L285.00,128.73 L285.25,128.84 L285.50,128.92 L285.75,128.99 L286.00,129.04 L286.25,129.08" fill="none" stroke="#900022" stroke-width="0.5"/>
<path d="M258.50,138.28 L258.75,138.23 L259.00,138.14 L259.25,138.03 L259.50,137.87 L259.75,137.66 L260.00,137.38 L260.25,137.02 L260.50,136.56 L260.75,135.99 L261.00,135.30 L261.25,134.49 L261.50,133.54 L261.75,132.47 L262.00,131.29 L262.25,130.02 L262.50,128.69 L262.75,127.34 L263.00,126.02 L263.25,124.79 L263.50,123.69 L263.75,122.77 L264.00,122.08 L264.25,121.65 L264.50,121.50 L264.75,121.65 L265.00,122.08 L265.25,122.77 L265.50,123.69 L265.75,124.79 L266.00,126.02 L266.25,127.34 L266.50,128.69 L266.75,130.02 L267.00,131.29 L267.25,132.47 L267.50,133.54 L267.75,134.49 L268.00,135.30 L268.25,135.99 L268.50,136.56 L268.75,137.02 L269.00,137.38 L269.25,137.66 L269.50,137.87 L269.75,138.03 L270.00,138.14 L270.25,138.23 L270.50,138.28" fill="none" stroke="#7d1530" stroke-width="1.0"/>
<rect x="245.00" y="88.20" width="50.80" height="50.60" fill="none" stroke="#111" stroke-width="1.2"/>
<line x1="246.20" y1="146.50" x2="268.00" y2="146.50" stroke="#000" stroke-width="1.4"/>
<path d="M272.20,146.50 L264.60,143.20 L266.60,146.50 L264.60,149.80 L272.20,146.50" fill="#000" stroke="none" stroke-width="1"/>
<text x="246.30" y="160.40" font-size="9.6" text-anchor="start" font-weight="normal" fill="#1c1c1c" textLength="19.00" lengthAdjust="spacingAndGlyphs" stroke="#1c1c1c" stroke-width="0.22">CD38</text>
<text x="464.80" y="52.40" font-size="5.6" text-anchor="start" font-weight="normal" fill="#1e1e1e" textLength="15.50" lengthAdjust="spacingAndGlyphs" stroke="#1e1e1e" stroke-width="0.25">25 nM</text>
<text x="464.80" y="62.70" font-size="5.6" text-anchor="start" font-weight="normal" fill="#1e1e1e" textLength="15.50" lengthAdjust="spacingAndGlyphs" stroke="#1e1e1e" stroke-width="0.25">10 nM</text>
<text x="464.80" y="73.00" font-size="5.6" text-anchor="start" font-weight="normal" fill="#1e1e1e" textLength="12.50" lengthAdjust="spacingAndGlyphs" stroke="#1e1e1e" stroke-width="0.25">0 nM</text>
<text x="464.80" y="83.40" font-size="5.6" text-anchor="start" font-weight="normal" fill="#1e1e1e" textLength="6.50" lengthAdjust="spacingAndGlyphs" stroke="#1e1e1e" stroke-width="0.25">iso</text>
<line x1="464.50" y1="54.10" x2="511.30" y2="54.10" stroke="#dcc0bd" stroke-width="0.8"/>
<line x1="464.50" y1="63.90" x2="511.30" y2="63.90" stroke="#dcc0bd" stroke-width="0.8"/>
<line x1="464.50" y1="74.00" x2="511.30" y2="74.00" stroke="#dcc0bd" stroke-width="0.8"/>
<line x1="464.50" y1="84.00" x2="511.30" y2="84.00" stroke="#dcc0bd" stroke-width="0.8"/>
<path d="M490.75,63.78 L491.00,63.74 L491.25,63.69 L491.50,63.62 L491.75,63.54 L492.00,63.43 L492.25,63.29 L492.50,63.12 L492.75,62.91 L493.00,62.66 L493.25,62.36 L493.50,62.00 L493.75,61.58 L494.00,61.10 L494.25,60.55 L494.50,59.92 L494.75,59.22 L495.00,58.45 L495.25,57.61 L495.50,56.71 L495.75,55.75 L496.00,54.75 L496.25,53.73 L496.50,52.69 L496.75,51.66 L497.00,50.66 L497.25,49.71 L497.50,48.83 L497.75,48.04 L498.00,47.37 L498.25,46.83 L498.50,46.43 L498.75,46.18 L499.00,46.10 L499.25,46.17 L499.50,46.38 L499.75,46.73 L500.00,47.20 L500.25,47.79 L500.50,48.48 L500.75,49.26 L501.00,50.11 L501.25,51.01 L501.50,51.95 L501.75,52.91 L502.00,53.87 L502.25,54.82 L502.50,55.75 L502.75,56.64 L503.00,57.48 L503.25,58.27 L503.50,59.01 L503.75,59.68 L504.00,60.29 L504.25,60.83 L504.50,61.31 L504.75,61.74 L505.00,62.11 L505.25,62.43 L505.50,62.70 L505.75,62.93 L506.00,63.12 L506.25,63.28 L506.50,63.41 L506.75,63.51 L507.00,63.60 L507.25,63.67 L507.50,63.72 L507.75,63.77 L507.75,63.90 L490.75,63.90 Z" fill="#d6938a"/>
<path d="M490.75,63.78 L491.00,63.74 L491.25,63.69 L491.50,63.62 L491.75,63.54 L492.00,63.43 L492.25,63.29 L492.50,63.12 L492.75,62.91 L493.00,62.66 L493.25,62.36 L493.50,62.00 L493.75,61.58 L494.00,61.10 L494.25,60.55 L494.50,59.92 L494.75,59.22 L495.00,58.45 L495.25,57.61 L495.50,56.71 L495.75,55.75 L496.00,54.75 L496.25,53.73 L496.50,52.69 L496.75,51.66 L497.00,50.66 L497.25,49.71 L497.50,48.83 L497.75,48.04 L498.00,47.37 L498.25,46.83 L498.50,46.43 L498.75,46.18 L499.00,46.10 L499.25,46.17 L499.50,46.38 L499.75,46.73 L500.00,47.20 L500.25,47.79 L500.50,48.48 L500.75,49.26 L501.00,50.11 L501.25,51.01 L501.50,51.95 L501.75,52.91 L502.00,53.87 L502.25,54.82 L502.50,55.75 L502.75,56.64 L503.00,57.48 L503.25,58.27 L503.50,59.01 L503.75,59.68 L504.00,60.29 L504.25,60.83 L504.50,61.31 L504.75,61.74 L505.00,62.11 L505.25,62.43 L505.50,62.70 L505.75,62.93 L506.00,63.12 L506.25,63.28 L506.50,63.41 L506.75,63.51 L507.00,63.60 L507.25,63.67 L507.50,63.72 L507.75,63.77" fill="none" stroke="#c98579" stroke-width="0.5"/>
<path d="M491.25,53.96 L491.50,53.92 L491.75,53.88 L492.00,53.83 L492.25,53.77 L492.50,53.70 L492.75,53.62 L493.00,53.53 L493.25,53.42 L493.50,53.30 L493.75,53.16 L494.00,53.00 L494.25,52.82 L494.50,52.62 L494.75,52.41 L495.00,52.17 L495.25,51.91 L495.50,51.62 L495.75,51.31 L496.00,50.97 L496.25,50.59 L496.50,50.17 L496.75,49.70 L497.00,49.17 L497.25,48.57 L497.50,47.87 L497.75,47.08 L498.00,46.19 L498.25,45.19 L498.50,44.09 L498.75,42.93 L499.00,41.73 L499.25,40.54 L499.50,39.43 L499.75,38.45 L500.00,37.68 L500.25,37.17 L500.50,36.95 L500.75,37.02 L501.00,37.35 L501.25,37.90 L501.50,38.66 L501.75,39.58 L502.00,40.62 L502.25,41.73 L502.50,42.87 L502.75,44.00 L503.00,45.09 L503.25,46.10 L503.50,47.04 L503.75,47.88 L504.00,48.62 L504.25,49.28 L504.50,49.85 L504.75,50.35 L505.00,50.79 L505.25,51.17 L505.50,51.51 L505.75,51.80 L506.00,52.07 L506.25,52.31 L506.50,52.52 L506.75,52.71 L507.00,52.88 L507.25,53.04 L507.50,53.18 L507.75,53.30 L508.00,53.41 L508.25,53.51 L508.50,53.60 L508.75,53.67 L509.00,53.74 L509.25,53.79 L509.50,53.84 L509.75,53.89 L510.00,53.92 L510.25,53.95 L510.25,54.10 L491.25,54.10 Z" fill="#c1514d"/>
<path d="M491.25,53.96 L491.50,53.92 L491.75,53.88 L492.00,53.83 L492.25,53.77 L492.50,53.70 L492.75,53.62 L493.00,53.53 L493.25,53.42 L493.50,53.30 L493.75,53.16 L494.00,53.00 L494.25,52.82 L494.50,52.62 L494.75,52.41 L495.00,52.17 L495.25,51.91 L495.50,51.62 L495.75,51.31 L496.00,50.97 L496.25,50.59 L496.50,50.17 L496.75,49.70 L497.00,49.17 L497.25,48.57 L497.50,47.87 L497.75,47.08 L498.00,46.19 L498.25,45.19 L498.50,44.09 L498.75,42.93 L499.00,41.73 L499.25,40.54 L499.50,39.43 L499.75,38.45 L500.00,37.68 L500.25,37.17 L500.50,36.95 L500.75,37.02 L501.00,37.35 L501.25,37.90 L501.50,38.66 L501.75,39.58 L502.00,40.62 L502.25,41.73 L502.50,42.87 L502.75,44.00 L503.00,45.09 L503.25,46.10 L503.50,47.04 L503.75,47.88 L504.00,48.62 L504.25,49.28 L504.50,49.85 L504.75,50.35 L505.00,50.79 L505.25,51.17 L505.50,51.51 L505.75,51.80 L506.00,52.07 L506.25,52.31 L506.50,52.52 L506.75,52.71 L507.00,52.88 L507.25,53.04 L507.50,53.18 L507.75,53.30 L508.00,53.41 L508.25,53.51 L508.50,53.60 L508.75,53.67 L509.00,53.74 L509.25,53.79 L509.50,53.84 L509.75,53.89 L510.00,53.92 L510.25,53.95" fill="none" stroke="#b04840" stroke-width="0.5"/>
<path d="M484.75,73.85 L485.00,73.81 L485.25,73.75 L485.50,73.69 L485.75,73.61 L486.00,73.51 L486.25,73.38 L486.50,73.24 L486.75,73.07 L487.00,72.86 L487.25,72.62 L487.50,72.35 L487.75,72.03 L488.00,71.66 L488.25,71.24 L488.50,70.78 L488.75,70.26 L489.00,69.69 L489.25,69.06 L489.50,68.38 L489.75,67.66 L490.00,66.89 L490.25,66.08 L490.50,65.24 L490.75,64.38 L491.00,63.51 L491.25,62.63 L491.50,61.77 L491.75,60.94 L492.00,60.15 L492.25,59.41 L492.50,58.73 L492.75,58.14 L493.00,57.63 L493.25,57.23 L493.50,56.94 L493.75,56.76 L494.00,56.70 L494.25,56.74 L494.50,56.87 L494.75,57.07 L495.00,57.35 L495.25,57.71 L495.50,58.14 L495.75,58.63 L496.00,59.17 L496.25,59.77 L496.50,60.41 L496.75,61.08 L497.00,61.77 L497.25,62.49 L497.50,63.22 L497.75,63.94 L498.00,64.67 L498.25,65.38 L498.50,66.08 L498.75,66.76 L499.00,67.41 L499.25,68.03 L499.50,68.61 L499.75,69.17 L500.00,69.69 L500.25,70.17 L500.50,70.61 L500.75,71.02 L501.00,71.39 L501.25,71.72 L501.50,72.03 L501.75,72.30 L502.00,72.54 L502.25,72.75 L502.50,72.93 L502.75,74.00 L502.75,74.00 L484.75,74.00 Z" fill="#ab0029"/>
<path d="M484.75,73.85 L485.00,73.81 L485.25,73.75 L485.50,73.69 L485.75,73.61 L486.00,73.51 L486.25,73.38 L486.50,73.24 L486.75,73.07 L487.00,72.86 L487.25,72.62 L487.50,72.35 L487.75,72.03 L488.00,71.66 L488.25,71.24 L488.50,70.78 L488.75,70.26 L489.00,69.69 L489.25,69.06 L489.50,68.38 L489.75,67.66 L490.00,66.89 L490.25,66.08 L490.50,65.24 L490.75,64.38 L491.00,63.51 L491.25,62.63 L491.50,61.77 L491.75,60.94 L492.00,60.15 L492.25,59.41 L492.50,58.73 L492.75,58.14 L493.00,57.63 L493.25,57.23 L493.50,56.94 L493.75,56.76 L494.00,56.70 L494.25,56.74 L494.50,56.87 L494.75,57.07 L495.00,57.35 L495.25,57.71 L495.50,58.14 L495.75,58.63 L496.00,59.17 L496.25,59.77 L496.50,60.41 L496.75,61.08 L497.00,61.77 L497.25,62.49 L497.50,63.22 L497.75,63.94 L498.00,64.67 L498.25,65.38 L498.50,66.08 L498.75,66.76 L499.00,67.41 L499.25,68.03 L499.50,68.61 L499.75,69.17 L500.00,69.69 L500.25,70.17 L500.50,70.61 L500.75,71.02 L501.00,71.39 L501.25,71.72 L501.50,72.03 L501.75,72.30 L502.00,72.54 L502.25,72.75 L502.50,72.93 L502.75,74.00" fill="none" stroke="#900022" stroke-width="0.5"/>
<path d="M478.50,83.89 L478.75,83.82 L479.00,83.71 L479.25,83.56 L479.50,83.33 L479.75,83.02 L480.00,82.58 L480.25,82.01 L480.50,81.28 L480.75,80.36 L481.00,79.25 L481.25,77.95 L481.50,76.48 L481.75,74.88 L482.00,73.20 L482.25,71.53 L482.50,69.95 L482.75,68.54 L483.00,67.41 L483.25,66.62 L483.50,66.23 L483.75,66.27 L484.00,66.69 L484.25,67.45 L484.50,68.53 L484.75,69.84 L485.00,71.32 L485.25,72.89 L485.50,74.47 L485.75,76.00 L486.00,77.43 L486.25,78.72 L486.50,79.85 L486.75,80.80 L487.00,81.59 L487.25,82.22 L487.50,82.72 L487.75,83.10 L488.00,83.38 L488.25,83.58 L488.50,83.72 L488.75,83.82 L489.00,83.89" fill="none" stroke="#7d1530" stroke-width="1.0"/>
<rect x="463.50" y="32.40" width="47.80" height="51.90" fill="none" stroke="#111" stroke-width="1.2"/>
<text x="464.80" y="103.40" font-size="5.8" text-anchor="start" font-weight="normal" fill="#1e1e1e" textLength="5.00" lengthAdjust="spacingAndGlyphs" stroke="#1e1e1e" stroke-width="0.25">on</text>
<text x="464.80" y="112.10" font-size="5.8" text-anchor="start" font-weight="normal" fill="#1e1e1e" textLength="6.20" lengthAdjust="spacingAndGlyphs" stroke="#1e1e1e" stroke-width="0.25">off</text>
<text x="464.80" y="120.70" font-size="5.8" text-anchor="start" font-weight="normal" fill="#1e1e1e" textLength="5.00" lengthAdjust="spacingAndGlyphs" stroke="#1e1e1e" stroke-width="0.25">on</text>
<text x="464.80" y="128.60" font-size="5.8" text-anchor="start" font-weight="normal" fill="#1e1e1e" textLength="6.20" lengthAdjust="spacingAndGlyphs" stroke="#1e1e1e" stroke-width="0.25">off</text>
<text x="464.80" y="135.80" font-size="5.8" text-anchor="start" font-weight="normal" fill="#1e1e1e" textLength="6.20" lengthAdjust="spacingAndGlyphs" stroke="#1e1e1e" stroke-width="0.25">iso</text>
<line x1="464.50" y1="105.70" x2="511.30" y2="105.70" stroke="#dcc0bd" stroke-width="0.8"/>
<line x1="464.50" y1="114.30" x2="511.30" y2="114.30" stroke="#dcc0bd" stroke-width="0.8"/>
<line x1="464.50" y1="122.20" x2="511.30" y2="122.20" stroke="#dcc0bd" stroke-width="0.8"/>
<line x1="464.50" y1="130.00" x2="511.30" y2="130.00" stroke="#dcc0bd" stroke-width="0.8"/>
<line x1="464.50" y1="137.90" x2="511.30" y2="137.90" stroke="#dcc0bd" stroke-width="0.8"/>
<path d="M492.75,105.56 L493.00,105.50 L493.25,105.42 L493.50,105.31 L493.75,105.17 L494.00,104.99 L494.25,104.76 L494.50,104.48 L494.75,104.14 L495.00,103.73 L495.25,103.24 L495.50,102.68 L495.75,102.05 L496.00,101.34 L496.25,100.57 L496.50,99.74 L496.75,98.88 L497.00,98.01 L497.25,97.15 L497.50,96.32 L497.75,95.56 L498.00,94.90 L498.25,94.35 L498.50,93.94 L498.75,93.69 L499.00,93.60 L499.25,93.69 L499.50,93.94 L499.75,94.35 L500.00,94.90 L500.25,95.56 L500.50,96.32 L500.75,97.15 L501.00,98.01 L501.25,98.88 L501.50,99.74 L501.75,100.57 L502.00,101.34 L502.25,102.05 L502.50,102.68 L502.75,103.24 L503.00,103.73 L503.25,104.14 L503.50,104.48 L503.75,104.76 L504.00,104.99 L504.25,105.17 L504.50,105.31 L504.75,105.42 L505.00,105.50 L505.25,105.56 L505.25,105.70 L492.75,105.70 Z" fill="#e6c4bc"/>
<path d="M492.75,105.56 L493.00,105.50 L493.25,105.42 L493.50,105.31 L493.75,105.17 L494.00,104.99 L494.25,104.76 L494.50,104.48 L494.75,104.14 L495.00,103.73 L495.25,103.24 L495.50,102.68 L495.75,102.05 L496.00,101.34 L496.25,100.57 L496.50,99.74 L496.75,98.88 L497.00,98.01 L497.25,97.15 L497.50,96.32 L497.75,95.56 L498.00,94.90 L498.25,94.35 L498.50,93.94 L498.75,93.69 L499.00,93.60 L499.25,93.69 L499.50,93.94 L499.75,94.35 L500.00,94.90 L500.25,95.56 L500.50,96.32 L500.75,97.15 L501.00,98.01 L501.25,98.88 L501.50,99.74 L501.75,100.57 L502.00,101.34 L502.25,102.05 L502.50,102.68 L502.75,103.24 L503.00,103.73 L503.25,104.14 L503.50,104.48 L503.75,104.76 L504.00,104.99 L504.25,105.17 L504.50,105.31 L504.75,105.42 L505.00,105.50 L505.25,105.56" fill="none" stroke="#d4aaa2" stroke-width="0.5"/>
<path d="M490.75,122.05 L491.00,122.00 L491.25,121.93 L491.50,121.84 L491.75,121.72 L492.00,121.58 L492.25,121.39 L492.50,121.17 L492.75,120.90 L493.00,120.58 L493.25,120.20 L493.50,119.75 L493.75,119.24 L494.00,118.66 L494.25,118.01 L494.50,117.30 L494.75,116.52 L495.00,115.70 L495.25,114.83 L495.50,113.95 L495.75,113.05 L496.00,112.17 L496.25,111.31 L496.50,110.52 L496.75,109.80 L497.00,109.18 L497.25,108.68 L497.50,108.30 L497.75,108.08 L498.00,108.00 L498.25,108.08 L498.50,108.33 L498.75,108.74 L499.00,109.28 L499.25,109.95 L499.50,110.72 L499.75,111.57 L500.00,112.47 L500.25,113.40 L500.50,114.33 L500.75,115.25 L501.00,116.13 L501.25,116.97 L501.50,117.74 L501.75,118.44 L502.00,119.07 L502.25,119.62 L502.50,120.11 L502.75,120.52 L503.00,120.86 L503.25,121.15 L503.50,121.39 L503.75,121.58 L504.00,121.73 L504.25,121.85 L504.50,121.94 L504.75,122.01 L505.00,122.06 L505.00,122.20 L490.75,122.20 Z" fill="#d6938a"/>
<path d="M490.75,122.05 L491.00,122.00 L491.25,121.93 L491.50,121.84 L491.75,121.72 L492.00,121.58 L492.25,121.39 L492.50,121.17 L492.75,120.90 L493.00,120.58 L493.25,120.20 L493.50,119.75 L493.75,119.24 L494.00,118.66 L494.25,118.01 L494.50,117.30 L494.75,116.52 L495.00,115.70 L495.25,114.83 L495.50,113.95 L495.75,113.05 L496.00,112.17 L496.25,111.31 L496.50,110.52 L496.75,109.80 L497.00,109.18 L497.25,108.68 L497.50,108.30 L497.75,108.08 L498.00,108.00 L498.25,108.08 L498.50,108.33 L498.75,108.74 L499.00,109.28 L499.25,109.95 L499.50,110.72 L499.75,111.57 L500.00,112.47 L500.25,113.40 L500.50,114.33 L500.75,115.25 L501.00,116.13 L501.25,116.97 L501.50,117.74 L501.75,118.44 L502.00,119.07 L502.25,119.62 L502.50,120.11 L502.75,120.52 L503.00,120.86 L503.25,121.15 L503.50,121.39 L503.75,121.58 L504.00,121.73 L504.25,121.85 L504.50,121.94 L504.75,122.01 L505.00,122.06" fill="none" stroke="#c98579" stroke-width="0.5"/>
<path d="M485.00,114.15 L485.25,114.11 L485.50,114.05 L485.75,113.98 L486.00,113.90 L486.25,113.80 L486.50,113.67 L486.75,113.52 L487.00,113.35 L487.25,113.14 L487.50,112.89 L487.75,112.61 L488.00,112.28 L488.25,111.91 L488.50,111.50 L488.75,111.03 L489.00,110.51 L489.25,109.95 L489.50,109.34 L489.75,108.68 L490.00,107.99 L490.25,107.26 L490.50,106.50 L490.75,105.73 L491.00,104.95 L491.25,104.18 L491.50,103.42 L491.75,102.69 L492.00,102.01 L492.25,101.38 L492.50,100.82 L492.75,100.35 L493.00,99.96 L493.25,99.67 L493.50,99.48 L493.75,99.40 L494.00,99.48 L494.25,99.81 L494.50,100.38 L494.75,101.15 L495.00,102.09 L495.25,103.16 L495.50,104.31 L495.75,105.50 L496.00,106.68 L496.25,107.81 L496.50,108.87 L496.75,109.84 L497.00,110.69 L497.25,111.43 L497.50,112.06 L497.75,112.58 L498.00,113.01 L498.25,113.34 L498.50,113.60 L498.75,113.80 L499.00,113.95 L499.25,114.06 L499.50,114.13 L499.75,114.19 L499.75,114.30 L485.00,114.30 Z" fill="#c1514d"/>
<path d="M485.00,114.15 L485.25,114.11 L485.50,114.05 L485.75,113.98 L486.00,113.90 L486.25,113.80 L486.50,113.67 L486.75,113.52 L487.00,113.35 L487.25,113.14 L487.50,112.89 L487.75,112.61 L488.00,112.28 L488.25,111.91 L488.50,111.50 L488.75,111.03 L489.00,110.51 L489.25,109.95 L489.50,109.34 L489.75,108.68 L490.00,107.99 L490.25,107.26 L490.50,106.50 L490.75,105.73 L491.00,104.95 L491.25,104.18 L491.50,103.42 L491.75,102.69 L492.00,102.01 L492.25,101.38 L492.50,100.82 L492.75,100.35 L493.00,99.96 L493.25,99.67 L493.50,99.48 L493.75,99.40 L494.00,99.48 L494.25,99.81 L494.50,100.38 L494.75,101.15 L495.00,102.09 L495.25,103.16 L495.50,104.31 L495.75,105.50 L496.00,106.68 L496.25,107.81 L496.50,108.87 L496.75,109.84 L497.00,110.69 L497.25,111.43 L497.50,112.06 L497.75,112.58 L498.00,113.01 L498.25,113.34 L498.50,113.60 L498.75,113.80 L499.00,113.95 L499.25,114.06 L499.50,114.13 L499.75,114.19" fill="none" stroke="#b04840" stroke-width="0.5"/>
<path d="M482.75,129.87 L483.00,129.84 L483.25,129.81 L483.50,129.76 L483.75,129.71 L484.00,129.65 L484.25,129.58 L484.50,129.50 L484.75,129.40 L485.00,129.29 L485.25,129.16 L485.50,129.01 L485.75,128.84 L486.00,128.65 L486.25,128.44 L486.50,128.20 L486.75,127.93 L487.00,127.63 L487.25,127.31 L487.50,126.95 L487.75,126.56 L488.00,126.15 L488.25,125.70 L488.50,125.23 L488.75,124.73 L489.00,124.20 L489.25,123.66 L489.50,123.09 L489.75,122.51 L490.00,121.92 L490.25,121.33 L490.50,120.74 L490.75,120.15 L491.00,119.58 L491.25,119.03 L491.50,118.50 L491.75,118.01 L492.00,117.56 L492.25,117.15 L492.50,116.79 L492.75,116.49 L493.00,116.24 L493.25,116.06 L493.50,115.95 L493.75,115.90 L494.00,115.95 L494.25,116.17 L494.50,116.54 L494.75,117.05 L495.00,117.69 L495.25,118.44 L495.50,119.27 L495.75,120.16 L496.00,121.08 L496.25,122.00 L496.50,122.92 L496.75,123.81 L497.00,124.64 L497.25,125.42 L497.50,126.13 L497.75,126.77 L498.00,127.34 L498.25,127.83 L498.50,128.25 L498.75,128.61 L499.00,128.91 L499.25,129.15 L499.50,129.35 L499.75,129.50 L500.00,129.63 L500.25,129.72 L500.50,129.80 L500.75,129.85 L500.75,130.00 L482.75,130.00 Z" fill="#ab0029"/>
<path d="M482.75,129.87 L483.00,129.84 L483.25,129.81 L483.50,129.76 L483.75,129.71 L484.00,129.65 L484.25,129.58 L484.50,129.50 L484.75,129.40 L485.00,129.29 L485.25,129.16 L485.50,129.01 L485.75,128.84 L486.00,128.65 L486.25,128.44 L486.50,128.20 L486.75,127.93 L487.00,127.63 L487.25,127.31 L487.50,126.95 L487.75,126.56 L488.00,126.15 L488.25,125.70 L488.50,125.23 L488.75,124.73 L489.00,124.20 L489.25,123.66 L489.50,123.09 L489.75,122.51 L490.00,121.92 L490.25,121.33 L490.50,120.74 L490.75,120.15 L491.00,119.58 L491.25,119.03 L491.50,118.50 L491.75,118.01 L492.00,117.56 L492.25,117.15 L492.50,116.79 L492.75,116.49 L493.00,116.24 L493.25,116.06 L493.50,115.95 L493.75,115.90 L494.00,115.95 L494.25,116.17 L494.50,116.54 L494.75,117.05 L495.00,117.69 L495.25,118.44 L495.50,119.27 L495.75,120.16 L496.00,121.08 L496.25,122.00 L496.50,122.92 L496.75,123.81 L497.00,124.64 L497.25,125.42 L497.50,126.13 L497.75,126.77 L498.00,127.34 L498.25,127.83 L498.50,128.25 L498.75,128.61 L499.00,128.91 L499.25,129.15 L499.50,129.35 L499.75,129.50 L500.00,129.63 L500.25,129.72 L500.50,129.80 L500.75,129.85" fill="none" stroke="#900022" stroke-width="0.5"/>
<path d="M472.50,137.76 L472.75,137.66 L473.00,137.49 L473.25,137.22 L473.50,136.83 L473.75,136.26 L474.00,135.48 L474.25,134.46 L474.50,133.18 L474.75,131.68 L475.00,129.99 L475.25,128.20 L475.50,126.44 L475.75,124.86 L476.00,123.60 L476.25,122.78 L476.50,122.50 L476.75,122.74 L477.00,123.45 L477.25,124.56 L477.50,125.97 L477.75,127.56 L478.00,129.23 L478.25,130.85 L478.50,132.35 L478.75,133.67 L479.00,134.77 L479.25,135.66 L479.50,136.35 L479.75,136.86 L480.00,137.22 L480.25,137.47 L480.50,137.64 L480.75,137.75 L481.00,137.81" fill="none" stroke="#7d1530" stroke-width="1.0"/>
<rect x="463.50" y="88.00" width="47.80" height="50.60" fill="none" stroke="#111" stroke-width="1.2"/>
<line x1="464.80" y1="145.30" x2="487.50" y2="145.30" stroke="#000" stroke-width="1.4"/>
<path d="M491.50,145.30 L483.90,142.00 L485.90,145.30 L483.90,148.60 L491.50,145.30" fill="#000" stroke="none" stroke-width="1"/>
<text x="464.90" y="158.70" font-size="9.6" text-anchor="start" font-weight="normal" fill="#1c1c1c" textLength="18.50" lengthAdjust="spacingAndGlyphs" stroke="#1c1c1c" stroke-width="0.22">CD38</text>
<text x="45.60" y="195.10" font-size="9" text-anchor="start" font-weight="normal" fill="#1c1c1c" textLength="45.20" lengthAdjust="spacingAndGlyphs" stroke="#1c1c1c" stroke-width="0.22">primary MM</text>
<line x1="45.30" y1="208.20" x2="45.30" y2="302.90" stroke="#1a1a1a" stroke-width="1.4"/>
<line x1="42.40" y1="302.40" x2="45.30" y2="302.40" stroke="#1a1a1a" stroke-width="1.1"/>
<text x="39.40" y="304.70" font-size="6.4" text-anchor="end" font-weight="normal" fill="#1c1c1c" textLength="3.56" lengthAdjust="spacingAndGlyphs" stroke="#1c1c1c" stroke-width="0.18">0</text>
<line x1="42.40" y1="284.22" x2="45.30" y2="284.22" stroke="#1a1a1a" stroke-width="1.1"/>
<text x="39.40" y="286.52" font-size="6.4" text-anchor="end" font-weight="normal" fill="#1c1c1c" textLength="7.12" lengthAdjust="spacingAndGlyphs" stroke="#1c1c1c" stroke-width="0.18">20</text>
<line x1="42.40" y1="266.04" x2="45.30" y2="266.04" stroke="#1a1a1a" stroke-width="1.1"/>
<text x="39.40" y="268.34" font-size="6.4" text-anchor="end" font-weight="normal" fill="#1c1c1c" textLength="7.12" lengthAdjust="spacingAndGlyphs" stroke="#1c1c1c" stroke-width="0.18">40</text>
<line x1="42.40" y1="247.86" x2="45.30" y2="247.86" stroke="#1a1a1a" stroke-width="1.1"/>
<text x="39.40" y="250.16" font-size="6.4" text-anchor="end" font-weight="normal" fill="#1c1c1c" textLength="7.12" lengthAdjust="spacingAndGlyphs" stroke="#1c1c1c" stroke-width="0.18">60</text>
<line x1="42.40" y1="229.68" x2="45.30" y2="229.68" stroke="#1a1a1a" stroke-width="1.1"/>
<text x="39.40" y="231.98" font-size="6.4" text-anchor="end" font-weight="normal" fill="#1c1c1c" textLength="7.12" lengthAdjust="spacingAndGlyphs" stroke="#1c1c1c" stroke-width="0.18">80</text>
<line x1="42.40" y1="211.50" x2="45.30" y2="211.50" stroke="#1a1a1a" stroke-width="1.1"/>
<text x="39.40" y="213.80" font-size="6.4" text-anchor="end" font-weight="normal" fill="#1c1c1c" textLength="10.68" lengthAdjust="spacingAndGlyphs" stroke="#1c1c1c" stroke-width="0.18">100</text>
<line x1="42.70" y1="302.40" x2="137.00" y2="302.40" stroke="#1a1a1a" stroke-width="1.5"/>
<rect x="49.40" y="211.50" width="14.80" height="90.90" fill="#ab0029"/>
<line x1="56.80" y1="302.40" x2="56.80" y2="305.20" stroke="#1a1a1a" stroke-width="1.1"/>
<line x1="79.40" y1="257.86" x2="79.40" y2="241.60" stroke="#111" stroke-width="1.0"/>
<line x1="75.40" y1="241.60" x2="83.40" y2="241.60" stroke="#1a1a1a" stroke-width="1.1"/>
<rect x="72.00" y="257.86" width="14.80" height="44.54" fill="#30508a"/>
<line x1="79.40" y1="302.40" x2="79.40" y2="305.20" stroke="#1a1a1a" stroke-width="1.1"/>
<line x1="102.40" y1="245.59" x2="102.40" y2="240.40" stroke="#111" stroke-width="1.0"/>
<line x1="98.40" y1="240.40" x2="106.40" y2="240.40" stroke="#1a1a1a" stroke-width="1.1"/>
<rect x="95.00" y="245.59" width="14.80" height="56.81" fill="#6bab3f"/>
<line x1="102.40" y1="302.40" x2="102.40" y2="305.20" stroke="#1a1a1a" stroke-width="1.1"/>
<line x1="125.20" y1="282.04" x2="125.20" y2="269.70" stroke="#111" stroke-width="1.0"/>
<line x1="121.20" y1="269.70" x2="129.20" y2="269.70" stroke="#1a1a1a" stroke-width="1.1"/>
<rect x="117.80" y="282.04" width="14.80" height="20.36" fill="#58216e"/>
<line x1="125.20" y1="302.40" x2="125.20" y2="305.20" stroke="#1a1a1a" stroke-width="1.1"/>
<path d="M56.80,211.50 L56.80,207.90 L125.30,207.90 L125.30,269.70" fill="none" stroke="#161616" stroke-width="1.2"/>
<circle cx="88.80" cy="203.10" r="1.25" fill="#1a1a1a"/>
<circle cx="92.40" cy="203.10" r="1.25" fill="#1a1a1a"/>
<path d="M79.40,238.50 L79.40,221.00 L125.30,221.00 L125.30,240.00" fill="none" stroke="#161616" stroke-width="1.2"/>
<circle cx="100.40" cy="216.20" r="1.25" fill="#1a1a1a"/>
<circle cx="104.00" cy="216.20" r="1.25" fill="#1a1a1a"/>
<path d="M101.90,238.30 L101.90,231.40 L125.30,231.40 L125.30,240.00" fill="none" stroke="#161616" stroke-width="1.2"/>
<circle cx="113.40" cy="226.70" r="1.25" fill="#1a1a1a"/>
<text x="22.60" y="256.30" font-size="8.4" text-anchor="middle" font-weight="normal" fill="#1c1c1c" textLength="42.20" lengthAdjust="spacingAndGlyphs" transform="rotate(-90 22.60 256.30)" stroke="#1c1c1c" stroke-width="0.22">Viability [%]</text>
<text x="59.40" y="311.60" font-size="7.0" text-anchor="end" font-weight="normal" fill="#1c1c1c" textLength="30.00" lengthAdjust="spacingAndGlyphs" transform="rotate(-45 59.40 311.60)" stroke="#1c1c1c" stroke-width="0.18">Control Ab</text>
<text x="82.00" y="311.60" font-size="7.0" text-anchor="end" font-weight="normal" fill="#1c1c1c" textLength="13.20" lengthAdjust="spacingAndGlyphs" transform="rotate(-45 82.00 311.60)" stroke="#1c1c1c" stroke-width="0.18">Dara</text>
<text x="105.00" y="311.60" font-size="7.0" text-anchor="end" font-weight="normal" fill="#1c1c1c" textLength="53.00" lengthAdjust="spacingAndGlyphs" transform="rotate(-45 105.00 311.60)" stroke="#1c1c1c" stroke-width="0.18">Control Ab + Pano</text>
<text x="127.80" y="311.60" font-size="7.0" text-anchor="end" font-weight="normal" fill="#1c1c1c" textLength="35.80" lengthAdjust="spacingAndGlyphs" transform="rotate(-45 127.80 311.60)" stroke="#1c1c1c" stroke-width="0.18">Dara + Pano</text>
<text x="184.90" y="195.30" font-size="9" text-anchor="start" font-weight="normal" fill="#1c1c1c" textLength="27.10" lengthAdjust="spacingAndGlyphs" stroke="#1c1c1c" stroke-width="0.22">MM1.S</text>
<line x1="184.60" y1="210.80" x2="184.60" y2="303.00" stroke="#1a1a1a" stroke-width="1.4"/>
<line x1="181.80" y1="302.60" x2="184.60" y2="302.60" stroke="#1a1a1a" stroke-width="1.1"/>
<text x="179.00" y="304.90" font-size="6.4" text-anchor="end" font-weight="normal" fill="#1c1c1c" textLength="3.56" lengthAdjust="spacingAndGlyphs" stroke="#1c1c1c" stroke-width="0.18">0</text>
<line x1="181.80" y1="281.82" x2="184.60" y2="281.82" stroke="#1a1a1a" stroke-width="1.1"/>
<text x="179.00" y="284.12" font-size="6.4" text-anchor="end" font-weight="normal" fill="#1c1c1c" textLength="7.12" lengthAdjust="spacingAndGlyphs" stroke="#1c1c1c" stroke-width="0.18">25</text>
<line x1="181.80" y1="261.04" x2="184.60" y2="261.04" stroke="#1a1a1a" stroke-width="1.1"/>
<text x="179.00" y="263.34" font-size="6.4" text-anchor="end" font-weight="normal" fill="#1c1c1c" textLength="7.12" lengthAdjust="spacingAndGlyphs" stroke="#1c1c1c" stroke-width="0.18">50</text>
<line x1="181.80" y1="240.26" x2="184.60" y2="240.26" stroke="#1a1a1a" stroke-width="1.1"/>
<text x="179.00" y="242.56" font-size="6.4" text-anchor="end" font-weight="normal" fill="#1c1c1c" textLength="7.12" lengthAdjust="spacingAndGlyphs" stroke="#1c1c1c" stroke-width="0.18">75</text>
<line x1="181.80" y1="219.48" x2="184.60" y2="219.48" stroke="#1a1a1a" stroke-width="1.1"/>
<text x="179.00" y="221.78" font-size="6.4" text-anchor="end" font-weight="normal" fill="#1c1c1c" textLength="10.68" lengthAdjust="spacingAndGlyphs" stroke="#1c1c1c" stroke-width="0.18">100</text>
<line x1="182.40" y1="302.60" x2="298.60" y2="302.60" stroke="#1a1a1a" stroke-width="1.5"/>
<rect x="187.65" y="219.48" width="4.30" height="83.12" fill="#ab0029"/>
<rect x="193.75" y="219.48" width="4.30" height="83.12" fill="#30508a"/>
<line x1="202.10" y1="265.20" x2="202.10" y2="261.50" stroke="#111" stroke-width="0.8"/>
<line x1="200.60" y1="261.50" x2="203.60" y2="261.50" stroke="#1a1a1a" stroke-width="1.1"/>
<rect x="199.95" y="265.20" width="4.30" height="37.40" fill="#6bab3f"/>
<line x1="208.20" y1="260.21" x2="208.20" y2="252.50" stroke="#111" stroke-width="0.8"/>
<line x1="206.70" y1="252.50" x2="209.70" y2="252.50" stroke="#1a1a1a" stroke-width="1.1"/>
<rect x="206.05" y="260.21" width="4.30" height="42.39" fill="#58216e"/>
<line x1="199.00" y1="302.60" x2="199.00" y2="305.30" stroke="#1a1a1a" stroke-width="1.1"/>
<text x="199.00" y="314.60" font-size="6.4" text-anchor="middle" font-weight="normal" fill="#1c1c1c" textLength="3.40" lengthAdjust="spacingAndGlyphs" stroke="#1c1c1c" stroke-width="0.18">0</text>
<line x1="218.10" y1="223.30" x2="218.10" y2="215.20" stroke="#111" stroke-width="0.8"/>
<line x1="216.60" y1="215.20" x2="219.60" y2="215.20" stroke="#1a1a1a" stroke-width="1.1"/>
<rect x="215.95" y="223.30" width="4.30" height="79.30" fill="#ab0029"/>
<rect x="222.05" y="271.60" width="4.30" height="31.00" fill="#30508a"/>
<line x1="230.40" y1="267.19" x2="230.40" y2="265.50" stroke="#111" stroke-width="0.8"/>
<line x1="228.90" y1="265.50" x2="231.90" y2="265.50" stroke="#1a1a1a" stroke-width="1.1"/>
<rect x="228.25" y="267.19" width="4.30" height="35.41" fill="#6bab3f"/>
<line x1="236.50" y1="291.63" x2="236.50" y2="287.40" stroke="#111" stroke-width="0.8"/>
<line x1="235.00" y1="287.40" x2="238.00" y2="287.40" stroke="#1a1a1a" stroke-width="1.1"/>
<rect x="234.35" y="291.63" width="4.30" height="10.97" fill="#58216e"/>
<line x1="227.30" y1="302.60" x2="227.30" y2="305.30" stroke="#1a1a1a" stroke-width="1.1"/>
<text x="227.30" y="314.60" font-size="6.4" text-anchor="middle" font-weight="normal" fill="#1c1c1c" textLength="3.40" lengthAdjust="spacingAndGlyphs" stroke="#1c1c1c" stroke-width="0.18">1</text>
<line x1="246.30" y1="231.03" x2="246.30" y2="222.00" stroke="#111" stroke-width="0.8"/>
<line x1="244.80" y1="222.00" x2="247.80" y2="222.00" stroke="#1a1a1a" stroke-width="1.1"/>
<rect x="244.15" y="231.03" width="4.30" height="71.57" fill="#ab0029"/>
<line x1="252.40" y1="273.34" x2="252.40" y2="268.70" stroke="#111" stroke-width="0.8"/>
<line x1="250.90" y1="268.70" x2="253.90" y2="268.70" stroke="#1a1a1a" stroke-width="1.1"/>
<rect x="250.25" y="273.34" width="4.30" height="29.26" fill="#30508a"/>
<line x1="258.60" y1="268.11" x2="258.60" y2="264.60" stroke="#111" stroke-width="0.8"/>
<line x1="257.10" y1="264.60" x2="260.10" y2="264.60" stroke="#1a1a1a" stroke-width="1.1"/>
<rect x="256.45" y="268.11" width="4.30" height="34.49" fill="#6bab3f"/>
<line x1="264.70" y1="291.13" x2="264.70" y2="288.80" stroke="#111" stroke-width="0.8"/>
<line x1="263.20" y1="288.80" x2="266.20" y2="288.80" stroke="#1a1a1a" stroke-width="1.1"/>
<rect x="262.55" y="291.13" width="4.30" height="11.47" fill="#58216e"/>
<line x1="255.50" y1="302.60" x2="255.50" y2="305.30" stroke="#1a1a1a" stroke-width="1.1"/>
<text x="255.50" y="314.60" font-size="6.4" text-anchor="middle" font-weight="normal" fill="#1c1c1c" textLength="6.80" lengthAdjust="spacingAndGlyphs" stroke="#1c1c1c" stroke-width="0.18">10</text>
<line x1="274.50" y1="229.87" x2="274.50" y2="226.30" stroke="#111" stroke-width="0.8"/>
<line x1="273.00" y1="226.30" x2="276.00" y2="226.30" stroke="#1a1a1a" stroke-width="1.1"/>
<rect x="272.35" y="229.87" width="4.30" height="72.73" fill="#ab0029"/>
<line x1="280.60" y1="272.68" x2="280.60" y2="268.10" stroke="#111" stroke-width="0.8"/>
<line x1="279.10" y1="268.10" x2="282.10" y2="268.10" stroke="#1a1a1a" stroke-width="1.1"/>
<rect x="278.45" y="272.68" width="4.30" height="29.92" fill="#30508a"/>
<line x1="286.80" y1="267.27" x2="286.80" y2="264.60" stroke="#111" stroke-width="0.8"/>
<line x1="285.30" y1="264.60" x2="288.30" y2="264.60" stroke="#1a1a1a" stroke-width="1.1"/>
<rect x="284.65" y="267.27" width="4.30" height="35.33" fill="#6bab3f"/>
<line x1="292.90" y1="291.71" x2="292.90" y2="289.40" stroke="#111" stroke-width="0.8"/>
<line x1="291.40" y1="289.40" x2="294.40" y2="289.40" stroke="#1a1a1a" stroke-width="1.1"/>
<rect x="290.75" y="291.71" width="4.30" height="10.89" fill="#58216e"/>
<line x1="283.70" y1="302.60" x2="283.70" y2="305.30" stroke="#1a1a1a" stroke-width="1.1"/>
<text x="283.70" y="314.60" font-size="6.4" text-anchor="middle" font-weight="normal" fill="#1c1c1c" textLength="6.80" lengthAdjust="spacingAndGlyphs" stroke="#1c1c1c" stroke-width="0.18">50</text>
<text x="203.10" y="326.90" font-size="9.0" text-anchor="start" font-weight="normal" fill="#1c1c1c" textLength="75.90" lengthAdjust="spacingAndGlyphs" stroke="#1c1c1c" stroke-width="0.22">Daratumumab [μg/ml]</text>
<text x="162.30" y="257.00" font-size="8.4" text-anchor="middle" font-weight="normal" fill="#1c1c1c" textLength="41.60" lengthAdjust="spacingAndGlyphs" transform="rotate(-90 162.30 257.00)" stroke="#1c1c1c" stroke-width="0.22">Viability [%]</text>
<path d="M201.20,257.80 L201.20,247.80 L208.30,247.80 L208.30,250.80" fill="none" stroke="#161616" stroke-width="1.2"/>
<text x="204.80" y="242.90" font-size="6.6" text-anchor="middle" font-weight="normal" fill="#1c1c1c" textLength="9.00" lengthAdjust="spacingAndGlyphs" stroke="#1c1c1c" stroke-width="0.18">n.s</text>
<path d="M224.20,268.90 L224.20,250.70 L237.00,250.70 L237.00,287.40" fill="none" stroke="#161616" stroke-width="1.2"/>
<path d="M230.40,265.00 L230.40,260.40 L237.00,260.40 L237.00,260.40" fill="none" stroke="#161616" stroke-width="1.2"/>
<circle cx="227.45" cy="246.20" r="1.15" fill="#1a1a1a"/>
<circle cx="230.90" cy="246.20" r="1.15" fill="#1a1a1a"/>
<circle cx="234.35" cy="246.20" r="1.15" fill="#1a1a1a"/>
<circle cx="232.65" cy="256.00" r="1.15" fill="#1a1a1a"/>
<circle cx="235.95" cy="256.00" r="1.15" fill="#1a1a1a"/>
<path d="M252.40,268.20 L252.40,250.70 L265.90,250.70 L265.90,288.80" fill="none" stroke="#161616" stroke-width="1.2"/>
<path d="M258.60,264.10 L258.60,260.40 L265.90,260.40 L265.90,260.40" fill="none" stroke="#161616" stroke-width="1.2"/>
<circle cx="256.00" cy="246.20" r="1.15" fill="#1a1a1a"/>
<circle cx="259.45" cy="246.20" r="1.15" fill="#1a1a1a"/>
<circle cx="262.90" cy="246.20" r="1.15" fill="#1a1a1a"/>
<circle cx="261.20" cy="256.00" r="1.15" fill="#1a1a1a"/>
<circle cx="264.50" cy="256.00" r="1.15" fill="#1a1a1a"/>
<path d="M280.60,267.60 L280.60,250.70 L294.20,250.70 L294.20,289.40" fill="none" stroke="#161616" stroke-width="1.2"/>
<path d="M286.80,264.10 L286.80,260.40 L294.20,260.40 L294.20,260.40" fill="none" stroke="#161616" stroke-width="1.2"/>
<circle cx="282.52" cy="246.20" r="1.15" fill="#1a1a1a"/>
<circle cx="285.97" cy="246.20" r="1.15" fill="#1a1a1a"/>
<circle cx="289.43" cy="246.20" r="1.15" fill="#1a1a1a"/>
<circle cx="292.88" cy="246.20" r="1.15" fill="#1a1a1a"/>
<circle cx="289.45" cy="256.00" r="1.15" fill="#1a1a1a"/>
<circle cx="292.75" cy="256.00" r="1.15" fill="#1a1a1a"/>
<line x1="334.30" y1="210.80" x2="334.30" y2="303.00" stroke="#1a1a1a" stroke-width="1.4"/>
<line x1="331.40" y1="302.70" x2="334.30" y2="302.70" stroke="#1a1a1a" stroke-width="1.1"/>
<text x="328.00" y="305.00" font-size="6.4" text-anchor="end" font-weight="normal" fill="#1c1c1c" textLength="3.56" lengthAdjust="spacingAndGlyphs" stroke="#1c1c1c" stroke-width="0.18">0</text>
<line x1="331.40" y1="281.92" x2="334.30" y2="281.92" stroke="#1a1a1a" stroke-width="1.1"/>
<text x="328.00" y="284.22" font-size="6.4" text-anchor="end" font-weight="normal" fill="#1c1c1c" textLength="7.12" lengthAdjust="spacingAndGlyphs" stroke="#1c1c1c" stroke-width="0.18">25</text>
<line x1="331.40" y1="261.14" x2="334.30" y2="261.14" stroke="#1a1a1a" stroke-width="1.1"/>
<text x="328.00" y="263.44" font-size="6.4" text-anchor="end" font-weight="normal" fill="#1c1c1c" textLength="7.12" lengthAdjust="spacingAndGlyphs" stroke="#1c1c1c" stroke-width="0.18">50</text>
<line x1="331.40" y1="240.36" x2="334.30" y2="240.36" stroke="#1a1a1a" stroke-width="1.1"/>
<text x="328.00" y="242.66" font-size="6.4" text-anchor="end" font-weight="normal" fill="#1c1c1c" textLength="7.12" lengthAdjust="spacingAndGlyphs" stroke="#1c1c1c" stroke-width="0.18">75</text>
<line x1="331.40" y1="219.58" x2="334.30" y2="219.58" stroke="#1a1a1a" stroke-width="1.1"/>
<text x="328.00" y="221.88" font-size="6.4" text-anchor="end" font-weight="normal" fill="#1c1c1c" textLength="10.68" lengthAdjust="spacingAndGlyphs" stroke="#1c1c1c" stroke-width="0.18">100</text>
<line x1="331.20" y1="302.70" x2="446.20" y2="302.70" stroke="#1a1a1a" stroke-width="1.5"/>
<rect x="337.90" y="219.58" width="5.80" height="83.12" fill="#ab0029"/>
<rect x="345.90" y="219.58" width="5.80" height="83.12" fill="#30508a"/>
<line x1="356.80" y1="265.30" x2="356.80" y2="260.80" stroke="#111" stroke-width="0.8"/>
<line x1="355.10" y1="260.80" x2="358.50" y2="260.80" stroke="#1a1a1a" stroke-width="1.1"/>
<rect x="353.90" y="265.30" width="5.80" height="37.40" fill="#6bab3f"/>
<line x1="364.80" y1="259.48" x2="364.80" y2="252.10" stroke="#111" stroke-width="0.8"/>
<line x1="363.10" y1="252.10" x2="366.50" y2="252.10" stroke="#1a1a1a" stroke-width="1.1"/>
<rect x="361.90" y="259.48" width="5.80" height="43.22" fill="#58216e"/>
<line x1="352.60" y1="302.70" x2="352.60" y2="305.40" stroke="#1a1a1a" stroke-width="1.1"/>
<text x="352.60" y="314.60" font-size="6.4" text-anchor="middle" font-weight="normal" fill="#1c1c1c" textLength="3.40" lengthAdjust="spacingAndGlyphs" stroke="#1c1c1c" stroke-width="0.18">0</text>
<line x1="378.50" y1="224.57" x2="378.50" y2="221.00" stroke="#111" stroke-width="0.8"/>
<line x1="376.80" y1="221.00" x2="380.20" y2="221.00" stroke="#1a1a1a" stroke-width="1.1"/>
<rect x="375.60" y="224.57" width="5.80" height="78.13" fill="#ab0029"/>
<line x1="386.50" y1="229.14" x2="386.50" y2="219.10" stroke="#111" stroke-width="0.8"/>
<line x1="384.80" y1="219.10" x2="388.20" y2="219.10" stroke="#1a1a1a" stroke-width="1.1"/>
<rect x="383.60" y="229.14" width="5.80" height="73.56" fill="#30508a"/>
<line x1="394.50" y1="265.30" x2="394.50" y2="261.80" stroke="#111" stroke-width="0.8"/>
<line x1="392.80" y1="261.80" x2="396.20" y2="261.80" stroke="#1a1a1a" stroke-width="1.1"/>
<rect x="391.60" y="265.30" width="5.80" height="37.40" fill="#6bab3f"/>
<line x1="402.50" y1="261.14" x2="402.50" y2="249.30" stroke="#111" stroke-width="0.8"/>
<line x1="400.80" y1="249.30" x2="404.20" y2="249.30" stroke="#1a1a1a" stroke-width="1.1"/>
<rect x="399.60" y="261.14" width="5.80" height="41.56" fill="#58216e"/>
<line x1="390.30" y1="302.70" x2="390.30" y2="305.40" stroke="#1a1a1a" stroke-width="1.1"/>
<text x="390.30" y="314.60" font-size="6.4" text-anchor="middle" font-weight="normal" fill="#1c1c1c" textLength="3.40" lengthAdjust="spacingAndGlyphs" stroke="#1c1c1c" stroke-width="0.18">1</text>
<line x1="416.00" y1="229.55" x2="416.00" y2="225.40" stroke="#111" stroke-width="0.8"/>
<line x1="414.30" y1="225.40" x2="417.70" y2="225.40" stroke="#1a1a1a" stroke-width="1.1"/>
<rect x="413.10" y="229.55" width="5.80" height="73.15" fill="#ab0029"/>
<line x1="424.00" y1="238.70" x2="424.00" y2="233.10" stroke="#111" stroke-width="0.8"/>
<line x1="422.30" y1="233.10" x2="425.70" y2="233.10" stroke="#1a1a1a" stroke-width="1.1"/>
<rect x="421.10" y="238.70" width="5.80" height="64.00" fill="#30508a"/>
<line x1="432.00" y1="267.79" x2="432.00" y2="262.80" stroke="#111" stroke-width="0.8"/>
<line x1="430.30" y1="262.80" x2="433.70" y2="262.80" stroke="#1a1a1a" stroke-width="1.1"/>
<rect x="429.10" y="267.79" width="5.80" height="34.91" fill="#6bab3f"/>
<line x1="440.00" y1="270.28" x2="440.00" y2="268.90" stroke="#111" stroke-width="0.8"/>
<line x1="438.30" y1="268.90" x2="441.70" y2="268.90" stroke="#1a1a1a" stroke-width="1.1"/>
<rect x="437.10" y="270.28" width="5.80" height="32.42" fill="#58216e"/>
<line x1="427.80" y1="302.70" x2="427.80" y2="305.40" stroke="#1a1a1a" stroke-width="1.1"/>
<text x="427.80" y="314.60" font-size="6.4" text-anchor="middle" font-weight="normal" fill="#1c1c1c" textLength="6.80" lengthAdjust="spacingAndGlyphs" stroke="#1c1c1c" stroke-width="0.18">50</text>
<text x="348.30" y="326.60" font-size="9.0" text-anchor="start" font-weight="normal" fill="#1c1c1c" textLength="84.10" lengthAdjust="spacingAndGlyphs" stroke="#1c1c1c" stroke-width="0.22">Control antibody [μg/ml]</text>
<text x="311.60" y="257.30" font-size="8.4" text-anchor="middle" font-weight="normal" fill="#1c1c1c" textLength="41.00" lengthAdjust="spacingAndGlyphs" transform="rotate(-90 311.60 257.30)" stroke="#1c1c1c" stroke-width="0.22">Viability [%]</text>
<rect x="434.70" y="202.50" width="9.90" height="3.80" fill="#ab0029"/>
<text x="447.70" y="207.10" font-size="7.6" text-anchor="start" font-weight="normal" fill="#1c1c1c" textLength="57.60" lengthAdjust="spacingAndGlyphs" stroke="#1c1c1c" stroke-width="0.18">no PBMCs no Pano</text>
<rect x="434.70" y="210.80" width="9.90" height="3.80" fill="#30508a"/>
<text x="447.70" y="215.40" font-size="7.6" text-anchor="start" font-weight="normal" fill="#1c1c1c" textLength="22.20" lengthAdjust="spacingAndGlyphs" stroke="#1c1c1c" stroke-width="0.18">PBMCs</text>
<rect x="434.70" y="219.10" width="9.90" height="3.80" fill="#6bab3f"/>
<text x="447.70" y="223.70" font-size="7.6" text-anchor="start" font-weight="normal" fill="#1c1c1c" textLength="15.30" lengthAdjust="spacingAndGlyphs" stroke="#1c1c1c" stroke-width="0.18">Pano</text>
<rect x="434.70" y="227.40" width="9.90" height="3.80" fill="#58216e"/>
<text x="447.70" y="232.00" font-size="7.6" text-anchor="start" font-weight="normal" fill="#1c1c1c" textLength="41.20" lengthAdjust="spacingAndGlyphs" stroke="#1c1c1c" stroke-width="0.18">PBMCs+Pano</text>
</svg>
</body></html>
